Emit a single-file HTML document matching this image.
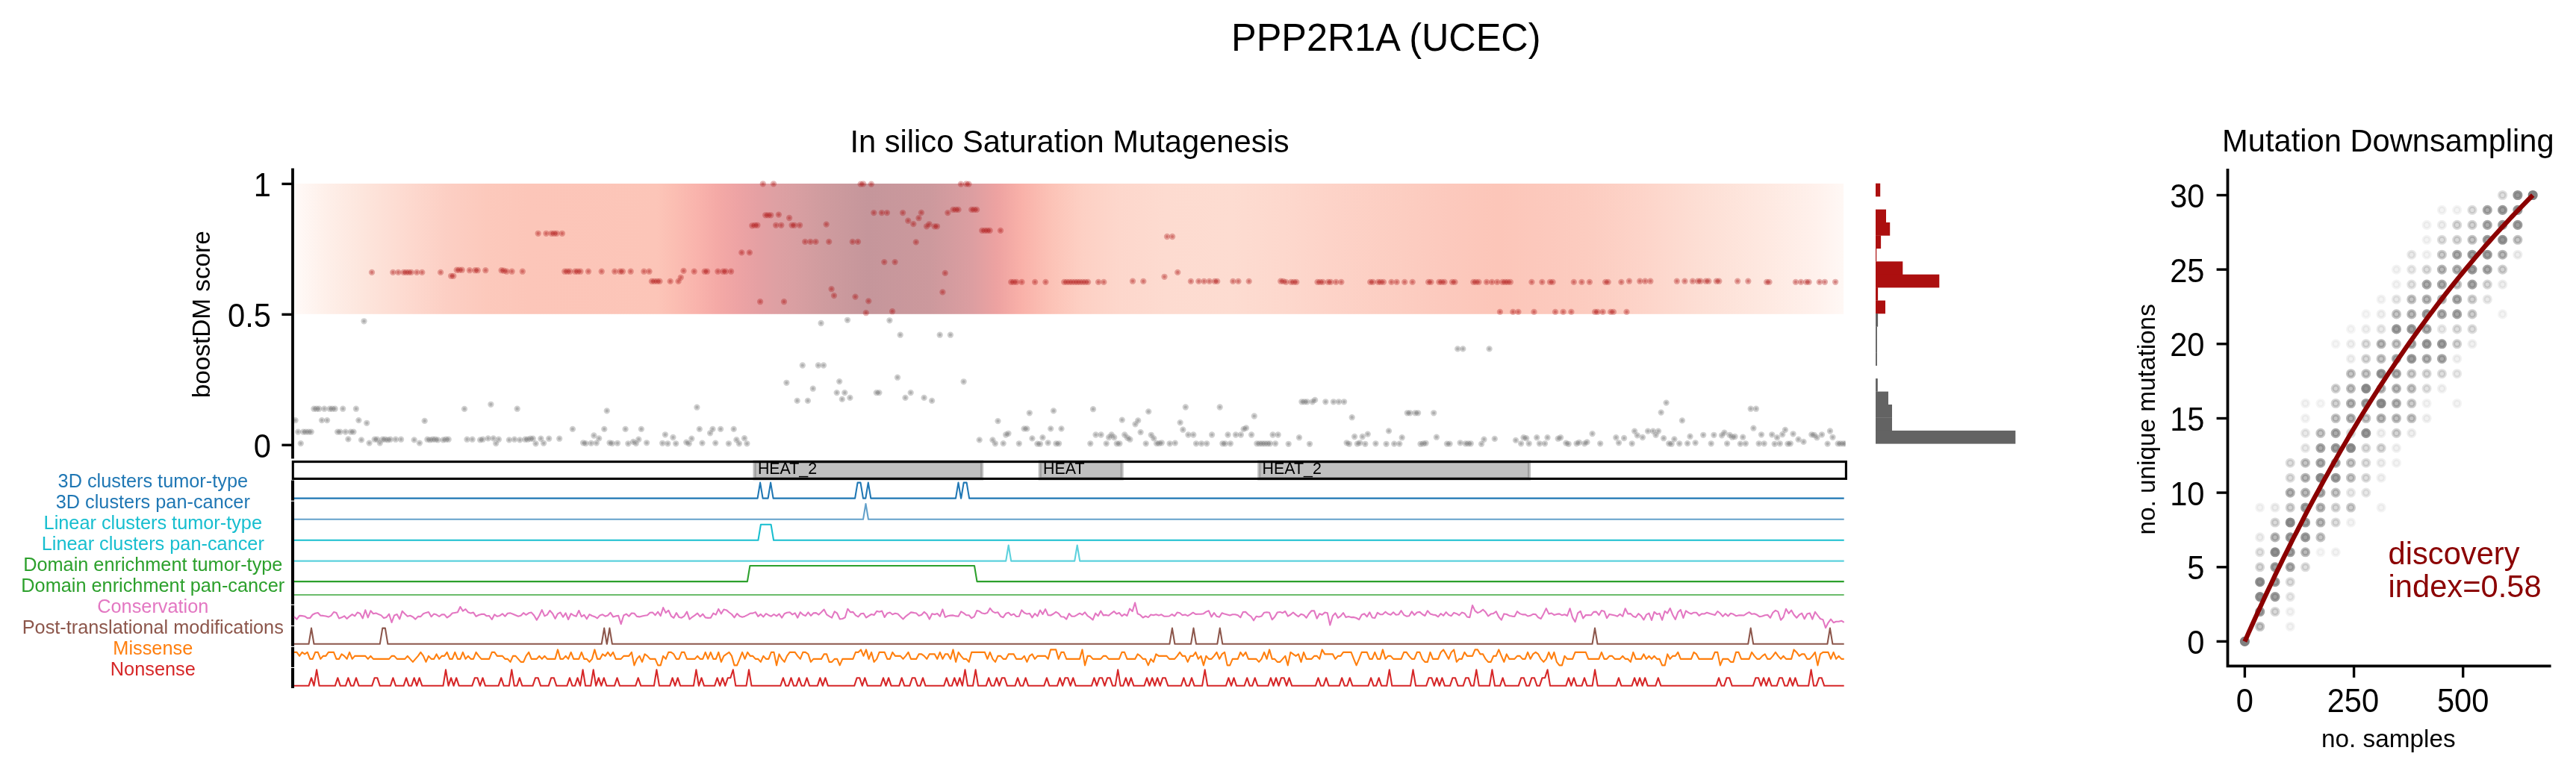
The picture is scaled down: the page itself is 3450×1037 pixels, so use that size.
<!DOCTYPE html>
<html lang="en"><head><meta charset="utf-8"><title>PPP2R1A (UCEC)</title>
<style>html,body{margin:0;padding:0;background:#fff}svg{display:block;will-change:transform}text{font-family:"Liberation Sans", Arial, sans-serif;fill:#000}</style></head><body>
<svg width="3450" height="1037" viewBox="0 0 3450 1037">
<rect width="3450" height="1037" fill="#fff"/>
<g opacity="0.999">
<defs><linearGradient id="band" gradientUnits="userSpaceOnUse" x1="394" y1="0" x2="2469" y2="0">
<stop offset="0.0000" stop-color="#fffaf8"/>
<stop offset="0.0193" stop-color="#fef0ea"/>
<stop offset="0.0458" stop-color="#fde5dc"/>
<stop offset="0.0718" stop-color="#fddad0"/>
<stop offset="0.0978" stop-color="#fccfc4"/>
<stop offset="0.1243" stop-color="#fcc9bc"/>
<stop offset="0.1504" stop-color="#fcc6b9"/>
<stop offset="0.2342" stop-color="#fcc5b8"/>
<stop offset="0.2467" stop-color="#fbbdb2"/>
<stop offset="0.2607" stop-color="#f9b3ac"/>
<stop offset="0.2737" stop-color="#f4a9a6"/>
<stop offset="0.2872" stop-color="#eda3a4"/>
<stop offset="0.2993" stop-color="#e5a0a3"/>
<stop offset="0.3113" stop-color="#dea0a3"/>
<stop offset="0.3234" stop-color="#d99fa2"/>
<stop offset="0.3402" stop-color="#d09c9f"/>
<stop offset="0.3701" stop-color="#c5969b"/>
<stop offset="0.4096" stop-color="#cc999d"/>
<stop offset="0.4376" stop-color="#dc9ea1"/>
<stop offset="0.4535" stop-color="#eda2a1"/>
<stop offset="0.4694" stop-color="#f9b1a9"/>
<stop offset="0.4892" stop-color="#fcc3b7"/>
<stop offset="0.5089" stop-color="#fdd0c4"/>
<stop offset="0.5330" stop-color="#fdd7cc"/>
<stop offset="0.5619" stop-color="#fddbd0"/>
<stop offset="0.6053" stop-color="#fddcd1"/>
<stop offset="0.6390" stop-color="#fdd8cd"/>
<stop offset="0.6680" stop-color="#fdd3c8"/>
<stop offset="0.7161" stop-color="#fccdc1"/>
<stop offset="0.7451" stop-color="#fcc9bd"/>
<stop offset="0.7764" stop-color="#fcc6b9"/>
<stop offset="0.8101" stop-color="#fcc9bd"/>
<stop offset="0.8342" stop-color="#fcccc0"/>
<stop offset="0.8704" stop-color="#fdd4c9"/>
<stop offset="0.9089" stop-color="#fddfd5"/>
<stop offset="0.9475" stop-color="#fee8e0"/>
<stop offset="0.9822" stop-color="#fff1ec"/>
<stop offset="1.0000" stop-color="#fff8f5"/>
</linearGradient>
<clipPath id="axclip"><rect x="392" y="225.4" width="2079.6" height="389.2"/></clipPath>
</defs>
<rect x="394" y="246" width="2075" height="174.8" fill="url(#band)"/>
<g clip-path="url(#axclip)" fill="#636363" stroke="#636363" fill-opacity="0.3" stroke-opacity="0.3" stroke-width="4.17">
<circle cx="395.6" cy="563.1" r="2.08"/>
<circle cx="399.1" cy="578.6" r="2.08"/>
<circle cx="402.8" cy="594.1" r="2.08"/>
<circle cx="406.2" cy="578.6" r="2.08"/>
<circle cx="409.6" cy="578.6" r="2.08"/>
<circle cx="413.3" cy="578.6" r="2.08"/>
<circle cx="416.8" cy="578.6" r="2.08"/>
<circle cx="420.4" cy="547.7" r="2.08"/>
<circle cx="423.9" cy="547.7" r="2.08"/>
<circle cx="427.3" cy="547.7" r="2.08"/>
<circle cx="431" cy="563.1" r="2.08"/>
<circle cx="434.4" cy="547.7" r="2.08"/>
<circle cx="438.1" cy="563.1" r="2.08"/>
<circle cx="441.6" cy="547.7" r="2.08"/>
<circle cx="445" cy="547.7" r="2.08"/>
<circle cx="448.7" cy="547.7" r="2.08"/>
<circle cx="452.1" cy="578.6" r="2.08"/>
<circle cx="455.6" cy="578.6" r="2.08"/>
<circle cx="459.2" cy="547.7" r="2.08"/>
<circle cx="462.7" cy="578.6" r="2.08"/>
<circle cx="466.4" cy="588.4" r="2.08"/>
<circle cx="469.8" cy="578.6" r="2.08"/>
<circle cx="473.5" cy="578.6" r="2.08"/>
<circle cx="476.9" cy="547.7" r="2.08"/>
<circle cx="480.4" cy="563.1" r="2.08"/>
<circle cx="484" cy="589.4" r="2.08"/>
<circle cx="487.5" cy="430.3" r="2.08"/>
<circle cx="491.2" cy="566.8" r="2.08"/>
<circle cx="494.6" cy="593.6" r="2.08"/>
<circle cx="501.7" cy="588.7" r="2.08"/>
<circle cx="505.1" cy="588.7" r="2.08"/>
<circle cx="508.8" cy="593.6" r="2.08"/>
<circle cx="512.3" cy="588.7" r="2.08"/>
<circle cx="515.7" cy="588.7" r="2.08"/>
<circle cx="519.4" cy="589.4" r="2.08"/>
<circle cx="522.8" cy="588.7" r="2.08"/>
<circle cx="529.9" cy="588.7" r="2.08"/>
<circle cx="537.1" cy="588.7" r="2.08"/>
<circle cx="554.7" cy="589.4" r="2.08"/>
<circle cx="561.9" cy="593.6" r="2.08"/>
<circle cx="568.7" cy="563.9" r="2.08"/>
<circle cx="572.4" cy="588.7" r="2.08"/>
<circle cx="575.9" cy="589.4" r="2.08"/>
<circle cx="579.5" cy="588.7" r="2.08"/>
<circle cx="583" cy="588.7" r="2.08"/>
<circle cx="586.4" cy="589.4" r="2.08"/>
<circle cx="593.5" cy="589.4" r="2.08"/>
<circle cx="597.2" cy="588.7" r="2.08"/>
<circle cx="600.7" cy="588.7" r="2.08"/>
<circle cx="622" cy="547.9" r="2.08"/>
<circle cx="625.5" cy="588.7" r="2.08"/>
<circle cx="632.6" cy="588.7" r="2.08"/>
<circle cx="643.1" cy="589.4" r="2.08"/>
<circle cx="646.6" cy="588.7" r="2.08"/>
<circle cx="653.7" cy="587.4" r="2.08"/>
<circle cx="657.4" cy="541.8" r="2.08"/>
<circle cx="660.8" cy="587.4" r="2.08"/>
<circle cx="664.2" cy="594.1" r="2.08"/>
<circle cx="667.9" cy="588.7" r="2.08"/>
<circle cx="681.9" cy="589.4" r="2.08"/>
<circle cx="689" cy="588.7" r="2.08"/>
<circle cx="692.7" cy="547.7" r="2.08"/>
<circle cx="696.2" cy="589.4" r="2.08"/>
<circle cx="703.3" cy="588.7" r="2.08"/>
<circle cx="706.7" cy="588.7" r="2.08"/>
<circle cx="710.4" cy="587.7" r="2.08"/>
<circle cx="713.8" cy="587.7" r="2.08"/>
<circle cx="717.5" cy="594.3" r="2.08"/>
<circle cx="724.4" cy="587.7" r="2.08"/>
<circle cx="728.1" cy="593.8" r="2.08"/>
<circle cx="735.2" cy="587.7" r="2.08"/>
<circle cx="749.2" cy="587.7" r="2.08"/>
<circle cx="766.9" cy="574.9" r="2.08"/>
<circle cx="781.1" cy="593.3" r="2.08"/>
<circle cx="784.5" cy="594.1" r="2.08"/>
<circle cx="791.7" cy="593.8" r="2.08"/>
<circle cx="795.4" cy="583.5" r="2.08"/>
<circle cx="798.8" cy="593.6" r="2.08"/>
<circle cx="802.2" cy="587.4" r="2.08"/>
<circle cx="809.3" cy="574.9" r="2.08"/>
<circle cx="812.8" cy="550.4" r="2.08"/>
<circle cx="816.5" cy="593.3" r="2.08"/>
<circle cx="819.9" cy="594.1" r="2.08"/>
<circle cx="827" cy="593.8" r="2.08"/>
<circle cx="837.6" cy="574.9" r="2.08"/>
<circle cx="841.3" cy="594.3" r="2.08"/>
<circle cx="848.1" cy="591.9" r="2.08"/>
<circle cx="851.8" cy="594.1" r="2.08"/>
<circle cx="855.3" cy="588.7" r="2.08"/>
<circle cx="858.9" cy="574.9" r="2.08"/>
<circle cx="866.1" cy="593.3" r="2.08"/>
<circle cx="887.2" cy="593.8" r="2.08"/>
<circle cx="890.9" cy="582.3" r="2.08"/>
<circle cx="894.3" cy="594.3" r="2.08"/>
<circle cx="901.4" cy="586" r="2.08"/>
<circle cx="905.2" cy="594.3" r="2.08"/>
<circle cx="919.2" cy="592.6" r="2.08"/>
<circle cx="922.8" cy="594.3" r="2.08"/>
<circle cx="926.3" cy="587.7" r="2.08"/>
<circle cx="933.4" cy="545.7" r="2.08"/>
<circle cx="936.8" cy="574.9" r="2.08"/>
<circle cx="940.5" cy="593.6" r="2.08"/>
<circle cx="951.1" cy="580.3" r="2.08"/>
<circle cx="954.5" cy="574.9" r="2.08"/>
<circle cx="958.2" cy="593.6" r="2.08"/>
<circle cx="965.1" cy="574.9" r="2.08"/>
<circle cx="975.9" cy="594.3" r="2.08"/>
<circle cx="982.7" cy="574.9" r="2.08"/>
<circle cx="986.4" cy="589.2" r="2.08"/>
<circle cx="989.9" cy="594.3" r="2.08"/>
<circle cx="997" cy="587.2" r="2.08"/>
<circle cx="1000.4" cy="594.3" r="2.08"/>
<circle cx="1053.4" cy="512.8" r="2.08"/>
<circle cx="1067.7" cy="536.9" r="2.08"/>
<circle cx="1074.8" cy="489.5" r="2.08"/>
<circle cx="1081.9" cy="536.9" r="2.08"/>
<circle cx="1088.8" cy="520.7" r="2.08"/>
<circle cx="1095.9" cy="489.5" r="2.08"/>
<circle cx="1099.6" cy="433" r="2.08"/>
<circle cx="1103" cy="489.5" r="2.08"/>
<circle cx="1120.7" cy="526.1" r="2.08"/>
<circle cx="1124.2" cy="511.1" r="2.08"/>
<circle cx="1127.8" cy="534.9" r="2.08"/>
<circle cx="1131.3" cy="526.1" r="2.08"/>
<circle cx="1135" cy="428.8" r="2.08"/>
<circle cx="1138.4" cy="532.9" r="2.08"/>
<circle cx="1173.8" cy="526.1" r="2.08"/>
<circle cx="1177.4" cy="526.1" r="2.08"/>
<circle cx="1191.4" cy="429.3" r="2.08"/>
<circle cx="1202" cy="505.7" r="2.08"/>
<circle cx="1205.7" cy="448.7" r="2.08"/>
<circle cx="1212.5" cy="532.9" r="2.08"/>
<circle cx="1219.7" cy="526.1" r="2.08"/>
<circle cx="1237.6" cy="532.9" r="2.08"/>
<circle cx="1248.1" cy="536.9" r="2.08"/>
<circle cx="1258.7" cy="448.7" r="2.08"/>
<circle cx="1272.9" cy="448.7" r="2.08"/>
<circle cx="1290.6" cy="511.3" r="2.08"/>
<circle cx="1311.7" cy="589.4" r="2.08"/>
<circle cx="1329.4" cy="589.4" r="2.08"/>
<circle cx="1332.9" cy="594.3" r="2.08"/>
<circle cx="1336.5" cy="564.1" r="2.08"/>
<circle cx="1343.7" cy="594.1" r="2.08"/>
<circle cx="1347.1" cy="582.5" r="2.08"/>
<circle cx="1350.5" cy="580.8" r="2.08"/>
<circle cx="1364.8" cy="594.3" r="2.08"/>
<circle cx="1371.6" cy="574.4" r="2.08"/>
<circle cx="1375.3" cy="574.4" r="2.08"/>
<circle cx="1378.8" cy="553.3" r="2.08"/>
<circle cx="1382.4" cy="587.4" r="2.08"/>
<circle cx="1389.3" cy="594.6" r="2.08"/>
<circle cx="1393" cy="594.8" r="2.08"/>
<circle cx="1396.4" cy="586.2" r="2.08"/>
<circle cx="1403.6" cy="593.3" r="2.08"/>
<circle cx="1407.2" cy="574.4" r="2.08"/>
<circle cx="1411" cy="550.4" r="2.08"/>
<circle cx="1414.4" cy="594.3" r="2.08"/>
<circle cx="1418.1" cy="594.3" r="2.08"/>
<circle cx="1421.5" cy="574.4" r="2.08"/>
<circle cx="1460.3" cy="594.3" r="2.08"/>
<circle cx="1464" cy="548.2" r="2.08"/>
<circle cx="1467.5" cy="582.5" r="2.08"/>
<circle cx="1474.6" cy="582.5" r="2.08"/>
<circle cx="1481.7" cy="594.3" r="2.08"/>
<circle cx="1485.1" cy="586" r="2.08"/>
<circle cx="1488.6" cy="582.5" r="2.08"/>
<circle cx="1492.2" cy="586" r="2.08"/>
<circle cx="1495.7" cy="594.3" r="2.08"/>
<circle cx="1499.4" cy="594.3" r="2.08"/>
<circle cx="1502.8" cy="562.6" r="2.08"/>
<circle cx="1506.2" cy="582.5" r="2.08"/>
<circle cx="1509.9" cy="586.5" r="2.08"/>
<circle cx="1513.4" cy="588.7" r="2.08"/>
<circle cx="1520.5" cy="568.3" r="2.08"/>
<circle cx="1524.2" cy="563.4" r="2.08"/>
<circle cx="1527.6" cy="579.1" r="2.08"/>
<circle cx="1534.7" cy="594.3" r="2.08"/>
<circle cx="1538.2" cy="551.4" r="2.08"/>
<circle cx="1541.8" cy="582.8" r="2.08"/>
<circle cx="1545.3" cy="587.4" r="2.08"/>
<circle cx="1549" cy="594.1" r="2.08"/>
<circle cx="1552.4" cy="594.1" r="2.08"/>
<circle cx="1555.8" cy="593.3" r="2.08"/>
<circle cx="1566.6" cy="594.3" r="2.08"/>
<circle cx="1573.8" cy="593.6" r="2.08"/>
<circle cx="1580.6" cy="566.1" r="2.08"/>
<circle cx="1584.3" cy="575.7" r="2.08"/>
<circle cx="1587.8" cy="545.5" r="2.08"/>
<circle cx="1591.4" cy="582.5" r="2.08"/>
<circle cx="1598.3" cy="582.5" r="2.08"/>
<circle cx="1602" cy="594.3" r="2.08"/>
<circle cx="1609.1" cy="594.3" r="2.08"/>
<circle cx="1616.2" cy="594.3" r="2.08"/>
<circle cx="1623.1" cy="582.5" r="2.08"/>
<circle cx="1633.7" cy="545.5" r="2.08"/>
<circle cx="1637.4" cy="594.3" r="2.08"/>
<circle cx="1640.8" cy="594.3" r="2.08"/>
<circle cx="1644.5" cy="582.5" r="2.08"/>
<circle cx="1647.9" cy="594.3" r="2.08"/>
<circle cx="1655" cy="582.5" r="2.08"/>
<circle cx="1661.9" cy="582.5" r="2.08"/>
<circle cx="1665.6" cy="574.9" r="2.08"/>
<circle cx="1669" cy="573.4" r="2.08"/>
<circle cx="1676.1" cy="582.5" r="2.08"/>
<circle cx="1679.8" cy="557.5" r="2.08"/>
<circle cx="1683.3" cy="594.3" r="2.08"/>
<circle cx="1686.9" cy="594.3" r="2.08"/>
<circle cx="1690.4" cy="594.3" r="2.08"/>
<circle cx="1693.8" cy="594.3" r="2.08"/>
<circle cx="1697.5" cy="594.3" r="2.08"/>
<circle cx="1700.9" cy="594.3" r="2.08"/>
<circle cx="1704.6" cy="582.5" r="2.08"/>
<circle cx="1708.1" cy="594.3" r="2.08"/>
<circle cx="1711.7" cy="582.5" r="2.08"/>
<circle cx="1725.7" cy="594.8" r="2.08"/>
<circle cx="1740" cy="586.2" r="2.08"/>
<circle cx="1743.4" cy="538.3" r="2.08"/>
<circle cx="1746.9" cy="538.3" r="2.08"/>
<circle cx="1750.5" cy="538.3" r="2.08"/>
<circle cx="1754" cy="594.8" r="2.08"/>
<circle cx="1757.7" cy="538.3" r="2.08"/>
<circle cx="1761.1" cy="535.9" r="2.08"/>
<circle cx="1775.3" cy="538.3" r="2.08"/>
<circle cx="1785.9" cy="538.3" r="2.08"/>
<circle cx="1793" cy="538.3" r="2.08"/>
<circle cx="1800.1" cy="538.3" r="2.08"/>
<circle cx="1803.6" cy="593.3" r="2.08"/>
<circle cx="1807" cy="594.8" r="2.08"/>
<circle cx="1810.7" cy="559.2" r="2.08"/>
<circle cx="1814.1" cy="585" r="2.08"/>
<circle cx="1817.8" cy="594.6" r="2.08"/>
<circle cx="1821.2" cy="593.3" r="2.08"/>
<circle cx="1824.7" cy="585" r="2.08"/>
<circle cx="1828.4" cy="594.8" r="2.08"/>
<circle cx="1831.8" cy="581.6" r="2.08"/>
<circle cx="1842.4" cy="594.3" r="2.08"/>
<circle cx="1856.6" cy="594.8" r="2.08"/>
<circle cx="1860" cy="577.4" r="2.08"/>
<circle cx="1867.2" cy="594.6" r="2.08"/>
<circle cx="1874.3" cy="594.6" r="2.08"/>
<circle cx="1877.7" cy="586.2" r="2.08"/>
<circle cx="1884.8" cy="553.3" r="2.08"/>
<circle cx="1888.3" cy="553.3" r="2.08"/>
<circle cx="1895.4" cy="553.3" r="2.08"/>
<circle cx="1899.1" cy="553.3" r="2.08"/>
<circle cx="1902.5" cy="594.8" r="2.08"/>
<circle cx="1906.2" cy="594.3" r="2.08"/>
<circle cx="1909.6" cy="593.8" r="2.08"/>
<circle cx="1920.2" cy="553.3" r="2.08"/>
<circle cx="1923.9" cy="585.7" r="2.08"/>
<circle cx="1937.9" cy="594.6" r="2.08"/>
<circle cx="1941.6" cy="594.6" r="2.08"/>
<circle cx="1952.2" cy="467.4" r="2.08"/>
<circle cx="1955.6" cy="593.3" r="2.08"/>
<circle cx="1959.3" cy="467.4" r="2.08"/>
<circle cx="1962.7" cy="594.3" r="2.08"/>
<circle cx="1966.4" cy="594.3" r="2.08"/>
<circle cx="1969.8" cy="594.3" r="2.08"/>
<circle cx="1984.1" cy="594.8" r="2.08"/>
<circle cx="1987.5" cy="588.7" r="2.08"/>
<circle cx="1994.6" cy="467.4" r="2.08"/>
<circle cx="2001.8" cy="587.9" r="2.08"/>
<circle cx="2030" cy="589.9" r="2.08"/>
<circle cx="2037.1" cy="594.3" r="2.08"/>
<circle cx="2040.5" cy="586.2" r="2.08"/>
<circle cx="2044.2" cy="587.2" r="2.08"/>
<circle cx="2047.7" cy="594.3" r="2.08"/>
<circle cx="2058.2" cy="586.2" r="2.08"/>
<circle cx="2061.9" cy="594.3" r="2.08"/>
<circle cx="2069" cy="594.3" r="2.08"/>
<circle cx="2072.5" cy="586.2" r="2.08"/>
<circle cx="2086.7" cy="587.7" r="2.08"/>
<circle cx="2090.1" cy="586.2" r="2.08"/>
<circle cx="2097.3" cy="593.6" r="2.08"/>
<circle cx="2100.7" cy="594.8" r="2.08"/>
<circle cx="2111.5" cy="594.3" r="2.08"/>
<circle cx="2114.9" cy="592.8" r="2.08"/>
<circle cx="2122.1" cy="594.3" r="2.08"/>
<circle cx="2125.5" cy="592.4" r="2.08"/>
<circle cx="2132.6" cy="581.1" r="2.08"/>
<circle cx="2143.2" cy="594.3" r="2.08"/>
<circle cx="2164.3" cy="586.2" r="2.08"/>
<circle cx="2168" cy="593.3" r="2.08"/>
<circle cx="2175.1" cy="587" r="2.08"/>
<circle cx="2185.7" cy="594.3" r="2.08"/>
<circle cx="2189.1" cy="577.6" r="2.08"/>
<circle cx="2192.8" cy="583.3" r="2.08"/>
<circle cx="2199.9" cy="586" r="2.08"/>
<circle cx="2207" cy="577.6" r="2.08"/>
<circle cx="2213.9" cy="577.6" r="2.08"/>
<circle cx="2217.6" cy="582.8" r="2.08"/>
<circle cx="2221" cy="577.6" r="2.08"/>
<circle cx="2224.7" cy="552.6" r="2.08"/>
<circle cx="2228.1" cy="587.2" r="2.08"/>
<circle cx="2231.6" cy="539.6" r="2.08"/>
<circle cx="2235.2" cy="594.3" r="2.08"/>
<circle cx="2238.7" cy="594.8" r="2.08"/>
<circle cx="2242.4" cy="588.4" r="2.08"/>
<circle cx="2249.2" cy="594.3" r="2.08"/>
<circle cx="2252.9" cy="563.4" r="2.08"/>
<circle cx="2260" cy="594.1" r="2.08"/>
<circle cx="2263.5" cy="584.7" r="2.08"/>
<circle cx="2270.6" cy="593.3" r="2.08"/>
<circle cx="2281.2" cy="582.8" r="2.08"/>
<circle cx="2291.7" cy="594.3" r="2.08"/>
<circle cx="2295.4" cy="582.8" r="2.08"/>
<circle cx="2306" cy="583.3" r="2.08"/>
<circle cx="2309.4" cy="579.6" r="2.08"/>
<circle cx="2313.1" cy="594.3" r="2.08"/>
<circle cx="2316.5" cy="582.8" r="2.08"/>
<circle cx="2320" cy="585.7" r="2.08"/>
<circle cx="2323.6" cy="585" r="2.08"/>
<circle cx="2330.8" cy="594.6" r="2.08"/>
<circle cx="2334.2" cy="585.7" r="2.08"/>
<circle cx="2337.9" cy="594.3" r="2.08"/>
<circle cx="2344.7" cy="547.7" r="2.08"/>
<circle cx="2348.4" cy="573.7" r="2.08"/>
<circle cx="2351.9" cy="547.7" r="2.08"/>
<circle cx="2355.6" cy="594.3" r="2.08"/>
<circle cx="2359" cy="582.3" r="2.08"/>
<circle cx="2362.7" cy="594.3" r="2.08"/>
<circle cx="2373.2" cy="582.3" r="2.08"/>
<circle cx="2376.7" cy="594.8" r="2.08"/>
<circle cx="2380.1" cy="586.2" r="2.08"/>
<circle cx="2383.8" cy="594.3" r="2.08"/>
<circle cx="2387.2" cy="582" r="2.08"/>
<circle cx="2390.9" cy="575.9" r="2.08"/>
<circle cx="2394.3" cy="594.6" r="2.08"/>
<circle cx="2397.8" cy="594.3" r="2.08"/>
<circle cx="2401.5" cy="581.3" r="2.08"/>
<circle cx="2408.6" cy="588.7" r="2.08"/>
<circle cx="2415.5" cy="591.9" r="2.08"/>
<circle cx="2426.3" cy="582.3" r="2.08"/>
<circle cx="2429.7" cy="582.8" r="2.08"/>
<circle cx="2433.4" cy="586.2" r="2.08"/>
<circle cx="2440" cy="582.3" r="2.08"/>
<circle cx="2447.6" cy="594.6" r="2.08"/>
<circle cx="2451" cy="577.5" r="2.08"/>
<circle cx="2454.5" cy="585.8" r="2.08"/>
<circle cx="2461.6" cy="594.4" r="2.08"/>
<circle cx="2465" cy="594.4" r="2.08"/>
<circle cx="2468.7" cy="594.4" r="2.08"/>
<circle cx="2472.1" cy="594.4" r="2.08"/>
</g>
<g clip-path="url(#axclip)" fill="#ac0f0f" stroke="#ac0f0f" fill-opacity="0.3" stroke-opacity="0.3" stroke-width="4.17">
<circle cx="498" cy="364.9" r="2.08"/>
<circle cx="526.3" cy="364.9" r="2.08"/>
<circle cx="533.4" cy="364.9" r="2.08"/>
<circle cx="540.5" cy="364.9" r="2.08"/>
<circle cx="543.9" cy="364.9" r="2.08"/>
<circle cx="547.4" cy="364.9" r="2.08"/>
<circle cx="550.8" cy="364.9" r="2.08"/>
<circle cx="558.2" cy="364.9" r="2.08"/>
<circle cx="565.3" cy="364.9" r="2.08"/>
<circle cx="590.1" cy="364.9" r="2.08"/>
<circle cx="604.1" cy="369.8" r="2.08"/>
<circle cx="607.3" cy="369.8" r="2.08"/>
<circle cx="611.7" cy="361.7" r="2.08"/>
<circle cx="615.1" cy="361.7" r="2.08"/>
<circle cx="618.8" cy="361.7" r="2.08"/>
<circle cx="628.9" cy="362.2" r="2.08"/>
<circle cx="636.3" cy="362.2" r="2.08"/>
<circle cx="639.7" cy="362.2" r="2.08"/>
<circle cx="650.3" cy="362.2" r="2.08"/>
<circle cx="671.6" cy="362.2" r="2.08"/>
<circle cx="674.8" cy="362.7" r="2.08"/>
<circle cx="678.5" cy="363.7" r="2.08"/>
<circle cx="685.6" cy="363.7" r="2.08"/>
<circle cx="699.8" cy="363.7" r="2.08"/>
<circle cx="720.7" cy="312.8" r="2.08"/>
<circle cx="731.5" cy="312.8" r="2.08"/>
<circle cx="738.6" cy="312.8" r="2.08"/>
<circle cx="742.1" cy="312.8" r="2.08"/>
<circle cx="745.5" cy="312.8" r="2.08"/>
<circle cx="752.9" cy="312.8" r="2.08"/>
<circle cx="756.3" cy="363.7" r="2.08"/>
<circle cx="759.8" cy="363.7" r="2.08"/>
<circle cx="763.2" cy="363.7" r="2.08"/>
<circle cx="770.3" cy="363.7" r="2.08"/>
<circle cx="773.7" cy="363.7" r="2.08"/>
<circle cx="777.4" cy="363.7" r="2.08"/>
<circle cx="788" cy="363.7" r="2.08"/>
<circle cx="805.7" cy="363.7" r="2.08"/>
<circle cx="823.3" cy="363.7" r="2.08"/>
<circle cx="830.5" cy="363.7" r="2.08"/>
<circle cx="833.9" cy="363.7" r="2.08"/>
<circle cx="844.7" cy="363.7" r="2.08"/>
<circle cx="862.4" cy="363.7" r="2.08"/>
<circle cx="869.5" cy="363.7" r="2.08"/>
<circle cx="872.9" cy="376.9" r="2.08"/>
<circle cx="876.4" cy="376.9" r="2.08"/>
<circle cx="880.1" cy="376.9" r="2.08"/>
<circle cx="883.5" cy="376.9" r="2.08"/>
<circle cx="897.7" cy="376.9" r="2.08"/>
<circle cx="908.6" cy="376.9" r="2.08"/>
<circle cx="911.8" cy="371.8" r="2.08"/>
<circle cx="915.5" cy="362.9" r="2.08"/>
<circle cx="929.7" cy="363.7" r="2.08"/>
<circle cx="943.7" cy="363.7" r="2.08"/>
<circle cx="947.1" cy="363.7" r="2.08"/>
<circle cx="961.4" cy="363.7" r="2.08"/>
<circle cx="968.5" cy="363.7" r="2.08"/>
<circle cx="971.9" cy="363.7" r="2.08"/>
<circle cx="979.1" cy="363.7" r="2.08"/>
<circle cx="993.3" cy="338.4" r="2.08"/>
<circle cx="1003.9" cy="338.4" r="2.08"/>
<circle cx="1007.3" cy="302.3" r="2.08"/>
<circle cx="1011" cy="301.8" r="2.08"/>
<circle cx="1014.4" cy="301.8" r="2.08"/>
<circle cx="1018.1" cy="404.2" r="2.08"/>
<circle cx="1021.8" cy="246.3" r="2.08"/>
<circle cx="1025.2" cy="288.3" r="2.08"/>
<circle cx="1028.7" cy="288.3" r="2.08"/>
<circle cx="1032.3" cy="288.3" r="2.08"/>
<circle cx="1036" cy="246.3" r="2.08"/>
<circle cx="1039.2" cy="301.8" r="2.08"/>
<circle cx="1042.9" cy="287.6" r="2.08"/>
<circle cx="1046.3" cy="301.8" r="2.08"/>
<circle cx="1050" cy="404.2" r="2.08"/>
<circle cx="1057.1" cy="292" r="2.08"/>
<circle cx="1060.6" cy="301.8" r="2.08"/>
<circle cx="1064" cy="301.8" r="2.08"/>
<circle cx="1071.1" cy="301.8" r="2.08"/>
<circle cx="1078.2" cy="323.9" r="2.08"/>
<circle cx="1085.4" cy="323.9" r="2.08"/>
<circle cx="1092.5" cy="323.9" r="2.08"/>
<circle cx="1106.7" cy="300.6" r="2.08"/>
<circle cx="1110.2" cy="323.9" r="2.08"/>
<circle cx="1113.6" cy="387.2" r="2.08"/>
<circle cx="1117" cy="396.1" r="2.08"/>
<circle cx="1141.8" cy="323.9" r="2.08"/>
<circle cx="1145.5" cy="397.6" r="2.08"/>
<circle cx="1149" cy="323.9" r="2.08"/>
<circle cx="1152.6" cy="246.6" r="2.08"/>
<circle cx="1156.1" cy="246.3" r="2.08"/>
<circle cx="1159.8" cy="419.2" r="2.08"/>
<circle cx="1163.2" cy="403.4" r="2.08"/>
<circle cx="1166.9" cy="246.6" r="2.08"/>
<circle cx="1170.3" cy="285.1" r="2.08"/>
<circle cx="1180.9" cy="285.1" r="2.08"/>
<circle cx="1184.3" cy="351.1" r="2.08"/>
<circle cx="1188" cy="285.1" r="2.08"/>
<circle cx="1195.1" cy="417.2" r="2.08"/>
<circle cx="1198.6" cy="351.1" r="2.08"/>
<circle cx="1209.1" cy="285.1" r="2.08"/>
<circle cx="1216.2" cy="295.7" r="2.08"/>
<circle cx="1223.3" cy="300.1" r="2.08"/>
<circle cx="1226.8" cy="324.4" r="2.08"/>
<circle cx="1230.5" cy="292.2" r="2.08"/>
<circle cx="1233.9" cy="284.9" r="2.08"/>
<circle cx="1241" cy="303.3" r="2.08"/>
<circle cx="1244.5" cy="300.3" r="2.08"/>
<circle cx="1251.6" cy="303.3" r="2.08"/>
<circle cx="1255" cy="303.3" r="2.08"/>
<circle cx="1262.4" cy="391.4" r="2.08"/>
<circle cx="1265.8" cy="365.9" r="2.08"/>
<circle cx="1269.3" cy="285.1" r="2.08"/>
<circle cx="1276.4" cy="280.9" r="2.08"/>
<circle cx="1280.1" cy="280.9" r="2.08"/>
<circle cx="1283.5" cy="280.9" r="2.08"/>
<circle cx="1286.9" cy="246.6" r="2.08"/>
<circle cx="1294.1" cy="246.3" r="2.08"/>
<circle cx="1297.5" cy="246.6" r="2.08"/>
<circle cx="1301.2" cy="280.9" r="2.08"/>
<circle cx="1304.6" cy="280.9" r="2.08"/>
<circle cx="1308.1" cy="280.9" r="2.08"/>
<circle cx="1315.2" cy="308.9" r="2.08"/>
<circle cx="1318.9" cy="308.9" r="2.08"/>
<circle cx="1322.3" cy="308.9" r="2.08"/>
<circle cx="1325.7" cy="308.9" r="2.08"/>
<circle cx="1340" cy="308.9" r="2.08"/>
<circle cx="1354.2" cy="377.9" r="2.08"/>
<circle cx="1357.6" cy="377.9" r="2.08"/>
<circle cx="1361.3" cy="377.9" r="2.08"/>
<circle cx="1368.5" cy="377.9" r="2.08"/>
<circle cx="1386.1" cy="377.9" r="2.08"/>
<circle cx="1400.4" cy="377.9" r="2.08"/>
<circle cx="1425.2" cy="377.9" r="2.08"/>
<circle cx="1428.7" cy="377.9" r="2.08"/>
<circle cx="1432.3" cy="377.9" r="2.08"/>
<circle cx="1435.8" cy="377.9" r="2.08"/>
<circle cx="1439.5" cy="377.9" r="2.08"/>
<circle cx="1442.9" cy="377.9" r="2.08"/>
<circle cx="1446.3" cy="377.9" r="2.08"/>
<circle cx="1450" cy="377.9" r="2.08"/>
<circle cx="1453.5" cy="377.9" r="2.08"/>
<circle cx="1457.1" cy="377.9" r="2.08"/>
<circle cx="1471.1" cy="377.9" r="2.08"/>
<circle cx="1478.3" cy="377.9" r="2.08"/>
<circle cx="1517" cy="376.7" r="2.08"/>
<circle cx="1531.3" cy="376.9" r="2.08"/>
<circle cx="1559.5" cy="370.8" r="2.08"/>
<circle cx="1563" cy="317" r="2.08"/>
<circle cx="1570.1" cy="317" r="2.08"/>
<circle cx="1577.2" cy="364.9" r="2.08"/>
<circle cx="1594.9" cy="376.9" r="2.08"/>
<circle cx="1605.4" cy="376.9" r="2.08"/>
<circle cx="1612.6" cy="376.9" r="2.08"/>
<circle cx="1619.7" cy="376.9" r="2.08"/>
<circle cx="1626.8" cy="376.9" r="2.08"/>
<circle cx="1630.2" cy="376.9" r="2.08"/>
<circle cx="1651.3" cy="376.9" r="2.08"/>
<circle cx="1658.5" cy="376.9" r="2.08"/>
<circle cx="1672.7" cy="376.9" r="2.08"/>
<circle cx="1715.2" cy="376.7" r="2.08"/>
<circle cx="1718.6" cy="376.9" r="2.08"/>
<circle cx="1722.3" cy="377.9" r="2.08"/>
<circle cx="1729.2" cy="377.9" r="2.08"/>
<circle cx="1732.9" cy="377.9" r="2.08"/>
<circle cx="1736.3" cy="377.9" r="2.08"/>
<circle cx="1764.5" cy="377.9" r="2.08"/>
<circle cx="1768" cy="377.9" r="2.08"/>
<circle cx="1771.6" cy="377.9" r="2.08"/>
<circle cx="1778.8" cy="377.9" r="2.08"/>
<circle cx="1782.2" cy="377.9" r="2.08"/>
<circle cx="1789.3" cy="377.9" r="2.08"/>
<circle cx="1796.4" cy="377.9" r="2.08"/>
<circle cx="1835.2" cy="377.9" r="2.08"/>
<circle cx="1838.7" cy="377.9" r="2.08"/>
<circle cx="1845.8" cy="377.9" r="2.08"/>
<circle cx="1849.2" cy="377.9" r="2.08"/>
<circle cx="1852.9" cy="377.9" r="2.08"/>
<circle cx="1863.5" cy="377.9" r="2.08"/>
<circle cx="1870.6" cy="377.9" r="2.08"/>
<circle cx="1881.2" cy="377.9" r="2.08"/>
<circle cx="1891.7" cy="377.9" r="2.08"/>
<circle cx="1913.1" cy="377.9" r="2.08"/>
<circle cx="1916.5" cy="377.9" r="2.08"/>
<circle cx="1927.4" cy="377.9" r="2.08"/>
<circle cx="1930.8" cy="377.9" r="2.08"/>
<circle cx="1934.5" cy="377.9" r="2.08"/>
<circle cx="1945" cy="377.9" r="2.08"/>
<circle cx="1948.5" cy="377.9" r="2.08"/>
<circle cx="1973.3" cy="377.9" r="2.08"/>
<circle cx="1976.7" cy="377.9" r="2.08"/>
<circle cx="1980.4" cy="377.9" r="2.08"/>
<circle cx="1991" cy="377.9" r="2.08"/>
<circle cx="1998.1" cy="377.9" r="2.08"/>
<circle cx="2005.2" cy="377.9" r="2.08"/>
<circle cx="2008.9" cy="417.9" r="2.08"/>
<circle cx="2012.3" cy="377.9" r="2.08"/>
<circle cx="2015.8" cy="377.9" r="2.08"/>
<circle cx="2019.2" cy="377.9" r="2.08"/>
<circle cx="2022.9" cy="377.9" r="2.08"/>
<circle cx="2026.3" cy="417.9" r="2.08"/>
<circle cx="2033.4" cy="417.9" r="2.08"/>
<circle cx="2051.4" cy="377.9" r="2.08"/>
<circle cx="2054.5" cy="417.9" r="2.08"/>
<circle cx="2065.3" cy="377.9" r="2.08"/>
<circle cx="2075.9" cy="377.9" r="2.08"/>
<circle cx="2079.6" cy="377.9" r="2.08"/>
<circle cx="2083" cy="417.9" r="2.08"/>
<circle cx="2093.6" cy="417.9" r="2.08"/>
<circle cx="2104.4" cy="417.9" r="2.08"/>
<circle cx="2107.8" cy="377.9" r="2.08"/>
<circle cx="2118.4" cy="377.9" r="2.08"/>
<circle cx="2128.9" cy="377.9" r="2.08"/>
<circle cx="2136.1" cy="417.9" r="2.08"/>
<circle cx="2139.5" cy="417.9" r="2.08"/>
<circle cx="2146.6" cy="417.9" r="2.08"/>
<circle cx="2150.1" cy="377.9" r="2.08"/>
<circle cx="2153.7" cy="377.9" r="2.08"/>
<circle cx="2157.2" cy="417.9" r="2.08"/>
<circle cx="2160.9" cy="417.9" r="2.08"/>
<circle cx="2171.4" cy="377.9" r="2.08"/>
<circle cx="2178.5" cy="417.9" r="2.08"/>
<circle cx="2182" cy="376.7" r="2.08"/>
<circle cx="2196.2" cy="376.7" r="2.08"/>
<circle cx="2203.3" cy="376.7" r="2.08"/>
<circle cx="2210.4" cy="376.7" r="2.08"/>
<circle cx="2245.8" cy="376.7" r="2.08"/>
<circle cx="2256.4" cy="376.7" r="2.08"/>
<circle cx="2266.9" cy="376.7" r="2.08"/>
<circle cx="2274" cy="376.7" r="2.08"/>
<circle cx="2277.5" cy="376.7" r="2.08"/>
<circle cx="2284.6" cy="376.7" r="2.08"/>
<circle cx="2288.3" cy="376.7" r="2.08"/>
<circle cx="2298.8" cy="376.7" r="2.08"/>
<circle cx="2302.3" cy="376.7" r="2.08"/>
<circle cx="2327.1" cy="376.7" r="2.08"/>
<circle cx="2341.3" cy="376.7" r="2.08"/>
<circle cx="2366.1" cy="377.9" r="2.08"/>
<circle cx="2369.5" cy="377.9" r="2.08"/>
<circle cx="2404.9" cy="377.9" r="2.08"/>
<circle cx="2412" cy="377.9" r="2.08"/>
<circle cx="2419.1" cy="377.9" r="2.08"/>
<circle cx="2422.6" cy="377.9" r="2.08"/>
<circle cx="2436.8" cy="377.9" r="2.08"/>
<circle cx="2443.9" cy="377.8" r="2.08"/>
<circle cx="2458.1" cy="377.8" r="2.08"/>
</g>
<g stroke="#000" stroke-width="3.8" fill="none">
<line x1="392" y1="225.4" x2="392" y2="614.6"/>
<line x1="377.4" y1="246.4" x2="392" y2="246.4" stroke-width="3.4"/>
<line x1="377.4" y1="421.3" x2="392" y2="421.3" stroke-width="3.4"/>
<line x1="377.4" y1="596.3" x2="392" y2="596.3" stroke-width="3.4"/>
</g>
<text transform="translate(363,262.8) scale(1,1.044)" font-size="41.67" text-anchor="end">1</text>
<text transform="translate(363,437.7) scale(1,1.044)" font-size="41.67" text-anchor="end">0.5</text>
<text transform="translate(363,612.7) scale(1,1.044)" font-size="41.67" text-anchor="end">0</text>
<text transform="translate(281,421.3) rotate(-90)" font-size="33.33" text-anchor="middle">boostDM score</text>
<text transform="translate(1856.3,67.8) scale(1,1.04)" font-size="50.4" text-anchor="middle">PPP2R1A (UCEC)</text>
<text x="1432.5" y="203.5" font-size="41.67" text-anchor="middle">In silico Saturation Mutagenesis</text>
<text x="3198.4" y="203.2" font-size="41.67" text-anchor="middle">Mutation Downsampling</text>
<rect x="2512" y="245.7" width="6.2" height="17.7" fill="#ac0f0f"/>
<rect x="2512" y="280.6" width="14" height="17.7" fill="#ac0f0f"/>
<rect x="2512" y="298" width="19.2" height="17.7" fill="#ac0f0f"/>
<rect x="2512" y="315.4" width="7.1" height="17.7" fill="#ac0f0f"/>
<rect x="2512" y="332.8" width="1.2" height="17.7" fill="#ac0f0f"/>
<rect x="2512" y="350.3" width="36.3" height="17.7" fill="#ac0f0f"/>
<rect x="2512" y="367.7" width="85.3" height="17.7" fill="#ac0f0f"/>
<rect x="2512" y="385.1" width="3.1" height="17.7" fill="#ac0f0f"/>
<rect x="2512" y="402.6" width="13" height="17.7" fill="#ac0f0f"/>
<rect x="2512" y="420" width="3.1" height="17.7" fill="#636363"/>
<rect x="2512" y="437.4" width="1.9" height="17.7" fill="#636363"/>
<rect x="2512" y="454.9" width="1.9" height="17.7" fill="#636363"/>
<rect x="2512" y="472.3" width="1.9" height="17.7" fill="#636363"/>
<rect x="2512" y="507.1" width="2.8" height="17.7" fill="#636363"/>
<rect x="2512" y="524.6" width="17" height="17.7" fill="#636363"/>
<rect x="2512" y="542" width="22" height="17.7" fill="#636363"/>
<rect x="2512" y="559.4" width="22" height="17.7" fill="#636363"/>
<rect x="2512" y="576.9" width="187.3" height="17.7" fill="#636363"/>
<g>
<rect x="1010.6" y="618.6" width="304.4" height="22.8" fill="#808080" fill-opacity="0.5" stroke="#808080" stroke-opacity="0.5" stroke-width="4.17"/>
<text transform="translate(1014.9,635.2) scale(1,1.02)" font-size="21.4" text-anchor="start">HEAT_2</text>
<rect x="1392.8" y="618.6" width="109.8" height="22.8" fill="#808080" fill-opacity="0.5" stroke="#808080" stroke-opacity="0.5" stroke-width="4.17"/>
<text transform="translate(1397.1,635.2) scale(1,1.02)" font-size="21.4" text-anchor="start">HEAT</text>
<rect x="1686.3" y="618.6" width="361.7" height="22.8" fill="#808080" fill-opacity="0.5" stroke="#808080" stroke-opacity="0.5" stroke-width="4.17"/>
<text transform="translate(1690.6,635.2) scale(1,1.02)" font-size="21.4" text-anchor="start">HEAT_2</text>
<rect x="392.3" y="618.6" width="2080.1" height="22.8" fill="none" stroke="#000" stroke-width="3.1"/>
</g>
<line x1="392" y1="643.6" x2="392" y2="921.9" stroke="#000" stroke-width="4.1"/>
<rect x="389" y="670.7" width="7" height="1.1" fill="#fff"/>
<rect x="389" y="809.7" width="7" height="1.1" fill="#fff"/>
<rect x="389" y="838" width="7" height="1.1" fill="#fff"/>
<rect x="389" y="865.8" width="7" height="1.1" fill="#fff"/>
<rect x="389" y="893.9" width="7" height="1.1" fill="#fff"/>
<path d="M394 667.6 L1014.6 667.6 L1018.1 646.6 L1021.6 667.6 L1028.6 667.6 L1032.1 646.6 L1035.6 667.6 L1145.1 667.6 L1148.6 646.6 L1152.5 646.6 L1156 667.6 L1159.3 667.6 L1162.8 646.6 L1166.3 667.6 L1280 667.6 L1283.5 646.6 L1287 667.6 L1287.2 667.6 L1290.7 646.6 L1294.6 646.6 L1298.1 667.6 L2469.7 667.6" fill="none" stroke="#1f77b4" stroke-width="2.08" stroke-linejoin="round"/>
<path d="M394 695.8 L1156 695.8 L1159.5 675 L1163 695.8 L2469.7 695.8" fill="none" stroke="#1f77b4" stroke-width="2.08" stroke-linejoin="round" stroke-opacity="0.7"/>
<path d="M394 723.8 L1015.4 723.8 L1018.9 702.8 L1032.6 702.8 L1036.1 723.8 L2469.7 723.8" fill="none" stroke="#17becf" stroke-width="2.08" stroke-linejoin="round"/>
<path d="M394 751.6 L1347.2 751.6 L1350.7 730.5 L1354.2 751.6 L1439.2 751.6 L1442.7 730.5 L1446.2 751.6 L2469.7 751.6" fill="none" stroke="#17becf" stroke-width="2.08" stroke-linejoin="round" stroke-opacity="0.7"/>
<path d="M394 779.1 L1000.9 779.1 L1004.4 758 L1305 758 L1308.5 779.1 L2469.7 779.1" fill="none" stroke="#2ca02c" stroke-width="2.08" stroke-linejoin="round"/>
<path d="M394 797 L2469.7 797" fill="none" stroke="#2ca02c" stroke-width="2.08" stroke-linejoin="round" stroke-opacity="0.7"/>
<path d="M394 826.3 L397.5 829.7 L401.1 824.9 L404.6 825.1 L408.1 825.7 L411.7 828.1 L415.2 828 L418.7 823.5 L422.2 821.8 L425.8 821 L429.3 824.7 L432.8 824.9 L436.4 825.6 L439.9 826.6 L443.4 824.9 L447 820 L450.5 821 L454 828.4 L457.5 827.3 L461.1 825.3 L464.6 828.9 L468.1 825.8 L471.7 823.1 L475.2 825.4 L478.7 820.5 L482.3 822 L485.8 828.4 L489.3 817.3 L492.8 827.4 L496.4 818.3 L499.9 822.3 L503.4 821.4 L507 823 L510.5 824.4 L514 828.1 L517.6 826.9 L521.1 822.7 L524.6 833.9 L528.1 824.4 L531.7 823.1 L535.2 829.4 L538.7 818.8 L542.3 822.4 L545.8 825.7 L549.3 824.8 L552.9 826.5 L556.4 829.6 L559.9 825.9 L563.4 826.1 L567 822.2 L570.5 820.9 L574 820 L577.6 826.2 L581.1 822.6 L584.6 823.6 L588.2 826 L591.7 823.4 L595.2 823.4 L598.7 827.5 L602.3 825.2 L605.8 821.5 L609.3 820.9 L612.9 820.3 L616.4 813 L619.9 818.6 L623.5 816.1 L627 820.3 L630.5 821.6 L634 820.6 L637.6 825.9 L641.1 824 L644.6 822.9 L648.2 822.7 L651.7 825.3 L655.2 825 L658.8 830 L662.3 823.3 L665.8 825.8 L669.3 824.9 L672.9 822.3 L676.4 825.7 L679.9 821.7 L683.5 821.4 L687 822.8 L690.5 824.3 L694.1 825.8 L697.6 824.8 L701.1 821.2 L704.6 823.8 L708.2 821.3 L711.7 820.6 L715.2 824.5 L718.8 830.6 L722.3 824.8 L725.8 817.2 L729.4 825.4 L732.9 823.6 L736.4 818 L740 822 L743.5 828.9 L747 822.3 L750.5 820.5 L754.1 826.7 L757.6 821.4 L761.1 830 L764.7 822.2 L768.2 824.5 L771.7 825.8 L775.3 818 L778.8 826.2 L782.3 823.8 L785.8 829.3 L789.4 823.2 L792.9 825 L796.4 826.2 L800 828.4 L803.5 824.4 L807 823.3 L810.6 825.7 L814.1 824.5 L817.6 820.8 L821.1 826.4 L824.7 825.4 L828.2 824.9 L831.7 836.1 L835.3 824.5 L838.8 822.6 L842.3 825.7 L845.9 821.5 L849.4 821.8 L852.9 825.9 L856.4 826.4 L860 825.5 L863.5 824.7 L867 824.3 L870.6 820.8 L874.1 820.6 L877.6 824.2 L881.2 819.7 L884.7 825.1 L888.2 814.1 L891.7 821.1 L895.3 817.8 L898.8 825.3 L902.3 827.9 L905.9 821.1 L909.4 826.9 L912.9 827.7 L916.5 825.3 L920 819.6 L923.5 829.7 L927 826.8 L930.6 824.3 L934.1 821.7 L937.6 826.2 L941.2 822.7 L944.7 827.4 L948.2 827.9 L951.8 827.8 L955.3 821.7 L958.8 823.6 L962.3 815.9 L965.9 822.3 L969.4 816.5 L972.9 817.4 L976.5 820.5 L980 823 L983.5 827.4 L987.1 822.1 L990.6 825.5 L994.1 826.8 L997.6 825.7 L1001.2 823.8 L1004.7 821.8 L1008.2 821.6 L1011.8 820.1 L1015.3 825.9 L1018.8 822.9 L1022.4 826.4 L1025.9 822.2 L1029.4 824.2 L1032.9 825.7 L1036.5 823 L1040 825.4 L1043.5 822.5 L1047.1 827.7 L1050.6 822.2 L1054.1 820.7 L1057.7 820.3 L1061.2 823.4 L1064.7 821.3 L1068.2 827.7 L1071.8 820.2 L1075.3 823.5 L1078.8 825.1 L1082.4 820.4 L1085.9 824.9 L1089.4 821.4 L1093 821.1 L1096.5 823.6 L1100 820.2 L1103.6 816.5 L1107.1 823.3 L1110.6 825.6 L1114.1 827.7 L1117.7 819.3 L1121.2 821.7 L1124.7 829.4 L1128.3 829 L1131.8 827.3 L1135.3 815.7 L1138.9 820.2 L1142.4 819.9 L1145.9 824.3 L1149.4 826.4 L1153 822.2 L1156.5 821.8 L1160 827.5 L1163.6 825.2 L1167.1 823 L1170.6 824.1 L1174.2 818.8 L1177.7 819.8 L1181.2 818.6 L1184.7 827 L1188.3 821.7 L1191.8 820.5 L1195.3 823.2 L1198.9 821.8 L1202.4 822.5 L1205.9 826 L1209.5 829.4 L1213 825.8 L1216.5 823.2 L1220 820.4 L1223.6 820.9 L1227.1 821.6 L1230.6 824.9 L1234.2 823.8 L1237.7 819.9 L1241.2 822.7 L1244.8 829.6 L1248.3 822.2 L1251.8 823.2 L1255.3 822 L1258.9 825.8 L1262.4 816.4 L1265.9 826.9 L1269.5 825.2 L1273 824.6 L1276.5 824.4 L1280.1 825.4 L1283.6 825.7 L1287.1 819.4 L1290.6 821.4 L1294.2 824.3 L1297.7 824.3 L1301.2 828.2 L1304.8 826.2 L1308.3 818.1 L1311.8 819.1 L1315.4 821.6 L1318.9 822.3 L1322.4 821.1 L1325.9 814.9 L1329.5 819.4 L1333 821.1 L1336.5 820.3 L1340.1 825.7 L1343.6 827.2 L1347.1 822.1 L1350.7 820.8 L1354.2 824.3 L1357.7 822.6 L1361.2 826 L1364.8 825.8 L1368.3 817.4 L1371.8 821 L1375.4 822.6 L1378.9 821.9 L1382.4 827.4 L1386 822 L1389.5 825.6 L1393 817.5 L1396.5 822.9 L1400.1 816.1 L1403.6 824.1 L1407.1 824.5 L1410.7 822.5 L1414.2 819.9 L1417.7 821.9 L1421.3 826.3 L1424.8 826.5 L1428.3 829.6 L1431.8 822 L1435.4 825.8 L1438.9 825.8 L1442.4 823.9 L1446 821.7 L1449.5 823.7 L1453 820.3 L1456.6 825.2 L1460.1 827.4 L1463.6 830.5 L1467.2 821.7 L1470.7 825.3 L1474.2 818.5 L1477.7 824.4 L1481.3 823.9 L1484.8 824.8 L1488.3 821.8 L1491.9 819.1 L1495.4 822.5 L1498.9 821 L1502.5 825.4 L1506 822.8 L1509.5 825 L1513 815.5 L1516.6 819.1 L1520.1 807.5 L1523.6 822.3 L1527.2 823.9 L1530.7 827.5 L1534.2 825.5 L1537.8 827.1 L1541.3 823.5 L1544.8 824.2 L1548.3 823.3 L1551.9 824.6 L1555.4 823.3 L1558.9 825.6 L1562.5 825.7 L1566 825.5 L1569.5 823 L1573.1 825.3 L1576.6 820.6 L1580.1 821.3 L1583.6 824.2 L1587.2 823.4 L1590.7 825.2 L1594.2 823.1 L1597.8 820.7 L1601.3 822.9 L1604.8 822.8 L1608.4 822.8 L1611.9 822.2 L1615.4 819.6 L1618.9 818.3 L1622.5 826.5 L1626 821.1 L1629.5 825.8 L1633.1 826.7 L1636.6 821.2 L1640.1 822.6 L1643.7 823.4 L1647.2 824.4 L1650.7 823.3 L1654.2 823.2 L1657.8 824.2 L1661.3 827.3 L1664.8 820 L1668.4 819.9 L1671.9 823.5 L1675.4 825.8 L1679 831.3 L1682.5 825.8 L1686 826.6 L1689.5 825.6 L1693.1 820.7 L1696.6 820.3 L1700.1 820.8 L1703.7 830.2 L1707.2 826.5 L1710.7 820.6 L1714.3 819.9 L1717.8 821.2 L1721.3 819 L1724.8 825.6 L1728.4 823.5 L1731.9 820.5 L1735.4 823.6 L1739 826.1 L1742.5 822.8 L1746 823.9 L1749.6 827.8 L1753.1 822.2 L1756.6 818.2 L1760.1 818.4 L1763.7 828.7 L1767.2 822.3 L1770.7 823.8 L1774.3 820.6 L1777.8 821.3 L1781.3 837.5 L1784.9 825.2 L1788.4 821.4 L1791.9 827.8 L1795.5 825.4 L1799 821.1 L1802.5 827.1 L1806 826 L1809.6 827.1 L1813.1 826.9 L1816.6 828 L1820.2 830.1 L1823.7 823.7 L1827.2 822.3 L1830.8 826.3 L1834.3 820.3 L1837.8 827.4 L1841.3 828.1 L1844.9 820.8 L1848.4 823.2 L1851.9 823.1 L1855.5 819.7 L1859 822.5 L1862.5 823.8 L1866.1 820.3 L1869.6 823.8 L1873.1 823.3 L1876.6 818.2 L1880.2 823.8 L1883.7 825.6 L1887.2 825.2 L1890.8 819.4 L1894.3 824 L1897.8 820.5 L1901.4 819.9 L1904.9 823 L1908.4 825 L1911.9 818.3 L1915.5 822.4 L1919 823.6 L1922.5 824 L1926.1 826.3 L1929.6 822.1 L1933.1 824.8 L1936.7 820.1 L1940.2 823.9 L1943.7 825.2 L1947.2 820.9 L1950.8 822.2 L1954.3 824.4 L1957.8 820.6 L1961.4 821.7 L1964.9 826.5 L1968.4 827.1 L1972 811 L1975.5 818.4 L1979 821.1 L1982.5 819.6 L1986.1 816.7 L1989.6 820.1 L1993.1 825.5 L1996.7 822.6 L2000.2 821.9 L2003.7 819.2 L2007.3 826.5 L2010.8 830.6 L2014.3 822.4 L2017.8 823 L2021.4 824.9 L2024.9 825.6 L2028.4 826 L2032 819.2 L2035.5 822.1 L2039 823.4 L2042.6 823.2 L2046.1 825.5 L2049.6 824.8 L2053.1 822.8 L2056.7 823.1 L2060.2 827.3 L2063.7 829 L2067.3 822.4 L2070.8 815.1 L2074.3 822.4 L2077.9 821.5 L2081.4 823.9 L2084.9 822.9 L2088.4 822.4 L2092 824.3 L2095.5 823.3 L2099 825 L2102.6 815.2 L2106.1 827.4 L2109.6 833.2 L2113.2 821.3 L2116.7 818.8 L2120.2 828.4 L2123.8 824 L2127.3 824.1 L2130.8 824.3 L2134.3 819.9 L2137.9 819.6 L2141.4 824.2 L2144.9 818 L2148.5 818.9 L2152 828.2 L2155.5 822.9 L2159.1 823.7 L2162.6 824.4 L2166.1 825.8 L2169.6 822.8 L2173.2 825.8 L2176.7 815.2 L2180.2 822.4 L2183.8 822.1 L2187.3 825.7 L2190.8 826.9 L2194.4 822.2 L2197.9 825.1 L2201.4 830.5 L2204.9 823.7 L2208.5 821.7 L2212 831 L2215.5 819.9 L2219.1 822.9 L2222.6 821.9 L2226.1 830.7 L2229.7 818.8 L2233.2 821.6 L2236.7 815 L2240.2 823.7 L2243.8 829.9 L2247.3 820.3 L2250.8 816.9 L2254.4 828 L2257.9 818.4 L2261.4 820.9 L2265 822.5 L2268.5 820.7 L2272 820.8 L2275.5 824.8 L2279.1 822.3 L2282.6 822.5 L2286.1 820.7 L2289.7 822 L2293.2 823.1 L2296.7 824.1 L2300.3 819 L2303.8 821.8 L2307.3 825.9 L2310.8 822.2 L2314.4 825.4 L2317.9 821.8 L2321.4 822.8 L2325 825.2 L2328.5 824.4 L2332 824.4 L2335.6 824.5 L2339.1 822.1 L2342.6 820.2 L2346.1 822.8 L2349.7 822.2 L2353.2 823.8 L2356.7 826.3 L2360.3 825.5 L2363.8 824.2 L2367.3 823.8 L2370.9 827.8 L2374.4 820.8 L2377.9 817.9 L2381.4 819.7 L2385 830.7 L2388.5 826.8 L2392 815.7 L2395.6 821.8 L2399.1 817.6 L2402.6 823.7 L2406.2 827.8 L2409.7 823.7 L2413.2 821.7 L2416.7 829.2 L2420.3 822.4 L2423.8 821.5 L2427.3 829.7 L2430.9 819.8 L2434.4 824.5 L2437.9 829 L2441.5 830.2 L2445 841.3 L2448.5 834.3 L2452 829.6 L2455.6 834.2 L2459.1 832.8 L2462.6 832.7 L2466.2 831.7 L2469.7 833.9" fill="none" stroke="#e377c2" stroke-width="2.08" stroke-linejoin="round"/>
<path d="M394 862.8 L413.5 862.8 L417 841.6 L420.5 862.8 L508.8 862.8 L512.3 841.6 L515.9 841.6 L519.4 862.8 L805.7 862.8 L809.2 841.6 L812.7 862.8 L812.9 862.8 L816.4 841.6 L819.9 862.8 L1566.4 862.8 L1569.9 841.6 L1573.4 862.8 L1595 862.8 L1598.5 841.6 L1602 862.8 L1630.3 862.8 L1633.8 841.6 L1637.3 862.8 L2132.5 862.8 L2136 841.6 L2139.5 862.8 L2341.2 862.8 L2344.7 841.6 L2348.2 862.8 L2447.4 862.8 L2450.9 841.6 L2454.4 862.8 L2469.7 862.8" fill="none" stroke="#8c564b" stroke-width="2.08" stroke-linejoin="round"/>
<path d="M394 873.9 L397.5 873.9 L401.1 878.9 L404.6 873.9 L408.1 876.4 L411.7 873.9 L415.2 882.9 L418.7 882.9 L422.2 873.9 L425.8 873.9 L429.3 882.9 L432.8 878.9 L436.4 878.9 L439.9 873.9 L443.4 873.9 L447 873.9 L450.5 882.9 L454 882.9 L457.5 876.4 L461.1 878.9 L464.6 882.9 L468.1 873.9 L471.7 882.9 L475.2 878.9 L478.7 878.9 L482.3 878.9 L485.8 878.9 L489.3 878.9 L492.8 882.9 L496.4 878.9 L499.9 882.9 L503.4 882.9 L507 882.9 L510.5 882.9 L514 882.9 L517.6 882.9 L521.1 882.9 L524.6 878.9 L528.1 878.9 L531.7 882.9 L535.2 882.9 L538.7 882.9 L542.3 882.9 L545.8 878.9 L549.3 882.9 L552.9 886.9 L556.4 882.9 L559.9 878.9 L563.4 873.9 L567 878.9 L570.5 886.9 L574 878.9 L577.6 882.9 L581.1 882.9 L584.6 876.4 L588.2 882.9 L591.7 878.9 L595.2 878.9 L598.7 873.9 L602.3 882.9 L605.8 882.9 L609.3 873.9 L612.9 882.9 L616.4 882.9 L619.9 873.9 L623.5 882.9 L627 878.9 L630.5 882.9 L634 882.9 L637.6 873.9 L641.1 878.9 L644.6 882.9 L648.2 882.9 L651.7 882.9 L655.2 882.9 L658.8 873.9 L662.3 873.9 L665.8 878.9 L669.3 878.9 L672.9 878.9 L676.4 882.9 L679.9 882.9 L683.5 886.9 L687 878.9 L690.5 878.9 L694.1 882.9 L697.6 886.9 L701.1 886.9 L704.6 878.9 L708.2 873.9 L711.7 882.9 L715.2 882.9 L718.8 882.9 L722.3 878.9 L725.8 882.9 L729.4 878.9 L732.9 882.9 L736.4 882.9 L740 882.9 L743.5 882.9 L747 870.4 L750.5 882.9 L754.1 882.9 L757.6 878.9 L761.1 882.9 L764.7 873.9 L768.2 882.9 L771.7 882.9 L775.3 882.9 L778.8 873.9 L782.3 882.9 L785.8 882.9 L789.4 886.9 L792.9 882.9 L796.4 870.4 L800 882.9 L803.5 882.9 L807 876.4 L810.6 878.9 L814.1 873.9 L817.6 878.9 L821.1 873.9 L824.7 882.9 L828.2 882.9 L831.7 882.9 L835.3 878.9 L838.8 878.9 L842.3 878.9 L845.9 873.9 L849.4 891.4 L852.9 882.9 L856.4 878.9 L860 886.9 L863.5 876.4 L867 878.9 L870.6 882.9 L874.1 882.9 L877.6 882.9 L881.2 891.4 L884.7 891.4 L888.2 878.9 L891.7 882.9 L895.3 873.9 L898.8 873.9 L902.3 876.4 L905.9 882.9 L909.4 882.9 L912.9 873.9 L916.5 873.9 L920 882.9 L923.5 882.9 L927 882.9 L930.6 882.9 L934.1 878.9 L937.6 882.9 L941.2 882.9 L944.7 873.9 L948.2 882.9 L951.8 873.9 L955.3 882.9 L958.8 882.9 L962.3 873.9 L965.9 886.9 L969.4 878.9 L972.9 876.4 L976.5 873.9 L980 878.9 L983.5 891.4 L987.1 891.4 L990.6 882.9 L994.1 873.9 L997.6 882.9 L1001.2 873.9 L1004.7 878.9 L1008.2 878.9 L1011.8 882.9 L1015.3 882.9 L1018.8 886.9 L1022.4 878.9 L1025.9 882.9 L1029.4 882.9 L1032.9 873.9 L1036.5 873.9 L1040 891.4 L1043.5 876.4 L1047.1 882.9 L1050.6 886.9 L1054.1 878.9 L1057.7 873.9 L1061.2 873.9 L1064.7 873.9 L1068.2 878.9 L1071.8 882.9 L1075.3 873.9 L1078.8 873.9 L1082.4 876.4 L1085.9 886.9 L1089.4 882.9 L1093 882.9 L1096.5 882.9 L1100 882.9 L1103.6 876.4 L1107.1 876.4 L1110.6 886.9 L1114.1 886.9 L1117.7 882.9 L1121.2 882.9 L1124.7 891.4 L1128.3 882.9 L1131.8 882.9 L1135.3 882.9 L1138.9 882.9 L1142.4 882.9 L1145.9 873.9 L1149.4 873.9 L1153 870.4 L1156.5 878.9 L1160 870.4 L1163.6 882.9 L1167.1 873.9 L1170.6 886.9 L1174.2 882.9 L1177.7 873.9 L1181.2 873.9 L1184.7 873.9 L1188.3 882.9 L1191.8 882.9 L1195.3 873.9 L1198.9 878.9 L1202.4 878.9 L1205.9 878.9 L1209.5 882.9 L1213 878.9 L1216.5 873.9 L1220 882.9 L1223.6 882.9 L1227.1 882.9 L1230.6 876.4 L1234.2 876.4 L1237.7 878.9 L1241.2 882.9 L1244.8 876.4 L1248.3 876.4 L1251.8 876.4 L1255.3 882.9 L1258.9 873.9 L1262.4 882.9 L1265.9 876.4 L1269.5 876.4 L1273 882.9 L1276.5 870.4 L1280.1 886.9 L1283.6 873.9 L1287.1 878.9 L1290.6 882.9 L1294.2 882.9 L1297.7 886.9 L1301.2 873.9 L1304.8 873.9 L1308.3 873.9 L1311.8 873.9 L1315.4 873.9 L1318.9 873.9 L1322.4 882.9 L1325.9 873.9 L1329.5 882.9 L1333 886.9 L1336.5 878.9 L1340.1 878.9 L1343.6 882.9 L1347.1 882.9 L1350.7 876.4 L1354.2 876.4 L1357.7 876.4 L1361.2 882.9 L1364.8 882.9 L1368.3 882.9 L1371.8 878.9 L1375.4 886.9 L1378.9 878.9 L1382.4 876.4 L1386 882.9 L1389.5 878.9 L1393 878.9 L1396.5 878.9 L1400.1 878.9 L1403.6 882.9 L1407.1 870.4 L1410.7 870.4 L1414.2 870.4 L1417.7 882.9 L1421.3 873.9 L1424.8 873.9 L1428.3 882.9 L1431.8 882.9 L1435.4 882.9 L1438.9 882.9 L1442.4 882.9 L1446 882.9 L1449.5 870.4 L1453 891.4 L1456.6 878.9 L1460.1 878.9 L1463.6 882.9 L1467.2 882.9 L1470.7 882.9 L1474.2 882.9 L1477.7 878.9 L1481.3 878.9 L1484.8 882.9 L1488.3 882.9 L1491.9 882.9 L1495.4 882.9 L1498.9 882.9 L1502.5 873.9 L1506 873.9 L1509.5 882.9 L1513 882.9 L1516.6 882.9 L1520.1 882.9 L1523.6 876.4 L1527.2 878.9 L1530.7 882.9 L1534.2 882.9 L1537.8 891.4 L1541.3 882.9 L1544.8 886.9 L1548.3 876.4 L1551.9 878.9 L1555.4 878.9 L1558.9 878.9 L1562.5 878.9 L1566 882.9 L1569.5 882.9 L1573.1 882.9 L1576.6 878.9 L1580.1 873.9 L1583.6 878.9 L1587.2 878.9 L1590.7 886.9 L1594.2 878.9 L1597.8 878.9 L1601.3 873.9 L1604.8 882.9 L1608.4 878.9 L1611.9 891.4 L1615.4 878.9 L1618.9 882.9 L1622.5 882.9 L1626 878.9 L1629.5 873.9 L1633.1 882.9 L1636.6 876.4 L1640.1 873.9 L1643.7 891.4 L1647.2 891.4 L1650.7 882.9 L1654.2 882.9 L1657.8 882.9 L1661.3 873.9 L1664.8 878.9 L1668.4 873.9 L1671.9 882.9 L1675.4 882.9 L1679 882.9 L1682.5 882.9 L1686 886.9 L1689.5 882.9 L1693.1 873.9 L1696.6 882.9 L1700.1 870.4 L1703.7 882.9 L1707.2 882.9 L1710.7 886.9 L1714.3 886.9 L1717.8 882.9 L1721.3 878.9 L1724.8 891.4 L1728.4 873.9 L1731.9 876.4 L1735.4 878.9 L1739 876.4 L1742.5 886.9 L1746 873.9 L1749.6 882.9 L1753.1 882.9 L1756.6 882.9 L1760.1 878.9 L1763.7 878.9 L1767.2 882.9 L1770.7 870.4 L1774.3 876.4 L1777.8 876.4 L1781.3 876.4 L1784.9 876.4 L1788.4 882.9 L1791.9 878.9 L1795.5 878.9 L1799 873.9 L1802.5 873.9 L1806 873.9 L1809.6 873.9 L1813.1 882.9 L1816.6 891.4 L1820.2 882.9 L1823.7 873.9 L1827.2 873.9 L1830.8 873.9 L1834.3 882.9 L1837.8 882.9 L1841.3 873.9 L1844.9 882.9 L1848.4 882.9 L1851.9 870.4 L1855.5 882.9 L1859 878.9 L1862.5 878.9 L1866.1 882.9 L1869.6 882.9 L1873.1 882.9 L1876.6 882.9 L1880.2 873.9 L1883.7 873.9 L1887.2 878.9 L1890.8 882.9 L1894.3 882.9 L1897.8 873.9 L1901.4 873.9 L1904.9 882.9 L1908.4 886.9 L1911.9 886.9 L1915.5 873.9 L1919 882.9 L1922.5 882.9 L1926.1 882.9 L1929.6 873.9 L1933.1 870.4 L1936.7 876.4 L1940.2 882.9 L1943.7 873.9 L1947.2 870.4 L1950.8 886.9 L1954.3 882.9 L1957.8 882.9 L1961.4 873.9 L1964.9 878.9 L1968.4 878.9 L1972 878.9 L1975.5 870.4 L1979 870.4 L1982.5 876.4 L1986.1 876.4 L1989.6 882.9 L1993.1 886.9 L1996.7 886.9 L2000.2 878.9 L2003.7 878.9 L2007.3 870.4 L2010.8 878.9 L2014.3 886.9 L2017.8 876.4 L2021.4 882.9 L2024.9 882.9 L2028.4 882.9 L2032 878.9 L2035.5 878.9 L2039 882.9 L2042.6 882.9 L2046.1 873.9 L2049.6 882.9 L2053.1 876.4 L2056.7 873.9 L2060.2 876.4 L2063.7 882.9 L2067.3 886.9 L2070.8 882.9 L2074.3 873.9 L2077.9 882.9 L2081.4 873.9 L2084.9 886.9 L2088.4 891.4 L2092 891.4 L2095.5 878.9 L2099 882.9 L2102.6 882.9 L2106.1 882.9 L2109.6 873.9 L2113.2 873.9 L2116.7 873.9 L2120.2 873.9 L2123.8 873.9 L2127.3 882.9 L2130.8 882.9 L2134.3 882.9 L2137.9 882.9 L2141.4 882.9 L2144.9 873.9 L2148.5 882.9 L2152 882.9 L2155.5 878.9 L2159.1 878.9 L2162.6 882.9 L2166.1 882.9 L2169.6 882.9 L2173.2 878.9 L2176.7 882.9 L2180.2 882.9 L2183.8 886.9 L2187.3 873.9 L2190.8 882.9 L2194.4 882.9 L2197.9 882.9 L2201.4 876.4 L2204.9 882.9 L2208.5 878.9 L2212 882.9 L2215.5 878.9 L2219.1 882.9 L2222.6 882.9 L2226.1 891.4 L2229.7 891.4 L2233.2 876.4 L2236.7 882.9 L2240.2 878.9 L2243.8 878.9 L2247.3 873.9 L2250.8 882.9 L2254.4 882.9 L2257.9 882.9 L2261.4 882.9 L2265 882.9 L2268.5 873.9 L2272 876.4 L2275.5 882.9 L2279.1 882.9 L2282.6 882.9 L2286.1 882.9 L2289.7 882.9 L2293.2 882.9 L2296.7 873.9 L2300.3 873.9 L2303.8 891.4 L2307.3 882.9 L2310.8 882.9 L2314.4 882.9 L2317.9 886.9 L2321.4 886.9 L2325 873.9 L2328.5 873.9 L2332 882.9 L2335.6 882.9 L2339.1 882.9 L2342.6 882.9 L2346.1 873.9 L2349.7 878.9 L2353.2 882.9 L2356.7 882.9 L2360.3 878.9 L2363.8 876.4 L2367.3 882.9 L2370.9 882.9 L2374.4 878.9 L2377.9 873.9 L2381.4 878.9 L2385 882.9 L2388.5 878.9 L2392 882.9 L2395.6 882.9 L2399.1 882.9 L2402.6 870.4 L2406.2 873.9 L2409.7 878.9 L2413.2 876.4 L2416.7 876.4 L2420.3 882.9 L2423.8 882.9 L2427.3 878.9 L2430.9 873.9 L2434.4 891.4 L2437.9 876.4 L2441.5 873.9 L2445 873.9 L2448.5 873.9 L2452 882.9 L2455.6 873.9 L2459.1 882.9 L2462.6 878.9 L2466.2 882.9 L2469.7 882.9" fill="none" stroke="#ff7f0e" stroke-width="2.08" stroke-linejoin="round"/>
<path d="M394 918.8 L395.8 918.8 L399.4 918.8 L402.9 918.8 L406.4 918.8 L409.9 918.8 L413.5 918.8 L417 908.2 L420.5 918.8 L424.1 897.3 L427.6 918.8 L431.1 918.8 L434.7 918.8 L438.2 918.8 L441.7 918.8 L445.2 918.8 L448.8 918.8 L452.3 908.2 L455.8 918.8 L459.4 918.8 L462.9 918.8 L466.4 908.2 L470 918.8 L473.5 918.8 L477 908.2 L480.6 918.8 L484.1 918.8 L487.6 918.8 L491.1 918.8 L494.7 918.8 L498.2 918.8 L501.7 908.2 L505.3 908.2 L508.8 918.8 L512.3 918.8 L515.9 918.8 L519.4 918.8 L522.9 918.8 L526.4 908.2 L530 918.8 L533.5 918.8 L537 918.8 L540.6 918.8 L544.1 908.2 L547.6 918.8 L551.1 918.8 L554.7 908.2 L558.2 918.8 L561.7 908.2 L565.3 918.8 L568.8 918.8 L572.3 918.8 L575.9 918.8 L579.4 918.8 L582.9 918.8 L586.5 918.8 L590 918.8 L593.5 918.8 L597 897.3 L600.6 918.8 L604.1 908.2 L607.6 918.8 L611.2 908.2 L614.7 918.8 L618.2 918.8 L621.8 918.8 L625.3 918.8 L628.8 918.8 L632.3 918.8 L635.9 908.2 L639.4 908.2 L642.9 918.8 L646.5 908.2 L650 918.8 L653.5 918.8 L657 918.8 L660.6 918.8 L664.1 918.8 L667.6 918.8 L671.2 908.2 L674.7 918.8 L678.2 918.8 L681.8 918.8 L685.3 897.3 L688.8 918.8 L692.4 918.8 L695.9 908.2 L699.4 918.8 L702.9 918.8 L706.5 918.8 L710 918.8 L713.5 918.8 L717.1 908.2 L720.6 908.2 L724.1 918.8 L727.6 918.8 L731.2 918.8 L734.7 918.8 L738.2 908.2 L741.8 908.2 L745.3 918.8 L748.8 918.8 L752.4 918.8 L755.9 918.8 L759.4 918.8 L763 908.2 L766.5 918.8 L770 918.8 L773.5 908.2 L777.1 918.8 L780.6 897.3 L784.1 918.8 L787.7 918.8 L791.2 918.8 L794.7 897.3 L798.2 918.8 L801.8 908.2 L805.3 918.8 L808.8 908.2 L812.4 918.8 L815.9 918.8 L819.4 918.8 L823 918.8 L826.5 908.2 L830 918.8 L833.5 918.8 L837.1 918.8 L840.6 918.8 L844.1 918.8 L847.7 918.8 L851.2 918.8 L854.7 908.2 L858.3 918.8 L861.8 918.8 L865.3 918.8 L868.8 918.8 L872.4 918.8 L875.9 918.8 L879.4 897.3 L883 918.8 L886.5 918.8 L890 918.8 L893.6 918.8 L897.1 918.8 L900.6 908.2 L904.1 918.8 L907.7 908.2 L911.2 918.8 L914.7 918.8 L918.3 918.8 L921.8 918.8 L925.3 918.8 L928.9 918.8 L932.4 897.3 L935.9 918.8 L939.5 908.2 L943 918.8 L946.5 918.8 L950 918.8 L953.6 918.8 L957.1 918.8 L960.6 908.2 L964.2 918.8 L967.7 908.2 L971.2 918.8 L974.8 908.2 L978.3 908.2 L981.8 897.3 L985.3 918.8 L988.9 918.8 L992.4 918.8 L995.9 918.8 L999.5 918.8 L1003 897.3 L1006.5 918.8 L1010 918.8 L1013.6 918.8 L1017.1 918.8 L1020.6 918.8 L1024.2 918.8 L1027.7 918.8 L1031.2 918.8 L1034.8 918.8 L1038.3 918.8 L1041.8 918.8 L1045.3 918.8 L1048.9 908.2 L1052.4 918.8 L1055.9 918.8 L1059.5 908.2 L1063 918.8 L1066.5 918.8 L1070.1 908.2 L1073.6 918.8 L1077.1 918.8 L1080.6 908.2 L1084.2 918.8 L1087.7 918.8 L1091.2 918.8 L1094.8 918.8 L1098.3 908.2 L1101.8 918.8 L1105.4 908.2 L1108.9 918.8 L1112.4 918.8 L1116 918.8 L1119.5 918.8 L1123 918.8 L1126.5 918.8 L1130.1 918.8 L1133.6 918.8 L1137.1 918.8 L1140.7 918.8 L1144.2 918.8 L1147.7 908.2 L1151.2 908.2 L1154.8 918.8 L1158.3 908.2 L1161.8 918.8 L1165.4 918.8 L1168.9 918.8 L1172.4 918.8 L1176 918.8 L1179.5 918.8 L1183 908.2 L1186.5 918.8 L1190.1 908.2 L1193.6 918.8 L1197.1 918.8 L1200.7 918.8 L1204.2 918.8 L1207.7 908.2 L1211.3 918.8 L1214.8 918.8 L1218.3 918.8 L1221.8 908.2 L1225.4 908.2 L1228.9 918.8 L1232.4 918.8 L1236 908.2 L1239.5 918.8 L1243 918.8 L1246.6 918.8 L1250.1 918.8 L1253.6 918.8 L1257.1 918.8 L1260.7 918.8 L1264.2 918.8 L1267.7 908.2 L1271.3 918.8 L1274.8 918.8 L1278.3 908.2 L1281.9 918.8 L1285.4 908.2 L1288.9 918.8 L1292.5 897.3 L1296 918.8 L1299.5 918.8 L1303 918.8 L1306.6 897.3 L1310.1 918.8 L1313.6 918.8 L1317.2 918.8 L1320.7 918.8 L1324.2 908.2 L1327.8 918.8 L1331.3 918.8 L1334.8 908.2 L1338.3 918.8 L1341.9 908.2 L1345.4 908.2 L1348.9 918.8 L1352.5 918.8 L1356 918.8 L1359.5 918.8 L1363 908.2 L1366.6 918.8 L1370.1 918.8 L1373.6 908.2 L1377.2 918.8 L1380.7 918.8 L1384.2 918.8 L1387.8 918.8 L1391.3 918.8 L1394.8 918.8 L1398.3 918.8 L1401.9 908.2 L1405.4 918.8 L1408.9 918.8 L1412.5 918.8 L1416 918.8 L1419.5 908.2 L1423.1 918.8 L1426.6 908.2 L1430.1 908.2 L1433.6 918.8 L1437.2 908.2 L1440.7 918.8 L1444.2 918.8 L1447.8 918.8 L1451.3 918.8 L1454.8 918.8 L1458.4 918.8 L1461.9 918.8 L1465.4 908.2 L1468.9 918.8 L1472.5 908.2 L1476 908.2 L1479.5 918.8 L1483.1 908.2 L1486.6 908.2 L1490.1 918.8 L1493.7 918.8 L1497.2 897.3 L1500.7 918.8 L1504.2 918.8 L1507.8 908.2 L1511.3 918.8 L1514.8 908.2 L1518.4 918.8 L1521.9 918.8 L1525.4 918.8 L1529 918.8 L1532.5 918.8 L1536 908.2 L1539.5 918.8 L1543.1 908.2 L1546.6 918.8 L1550.1 908.2 L1553.7 918.8 L1557.2 908.2 L1560.7 908.2 L1564.3 918.8 L1567.8 918.8 L1571.3 918.8 L1574.8 918.8 L1578.4 918.8 L1581.9 918.8 L1585.4 908.2 L1589 918.8 L1592.5 918.8 L1596 908.2 L1599.6 918.8 L1603.1 918.8 L1606.6 918.8 L1610.1 918.8 L1613.7 897.3 L1617.2 918.8 L1620.7 918.8 L1624.3 918.8 L1627.8 918.8 L1631.3 918.8 L1634.9 918.8 L1638.4 918.8 L1641.9 918.8 L1645.4 908.2 L1649 918.8 L1652.5 908.2 L1656 918.8 L1659.6 918.8 L1663.1 918.8 L1666.6 918.8 L1670.2 908.2 L1673.7 918.8 L1677.2 918.8 L1680.7 908.2 L1684.3 918.8 L1687.8 918.8 L1691.3 918.8 L1694.9 918.8 L1698.4 918.8 L1701.9 908.2 L1705.5 918.8 L1709 908.2 L1712.5 918.8 L1716 908.2 L1719.6 908.2 L1723.1 918.8 L1726.6 908.2 L1730.2 918.8 L1733.7 918.8 L1737.2 918.8 L1740.8 918.8 L1744.3 918.8 L1747.8 918.8 L1751.3 918.8 L1754.9 918.8 L1758.4 918.8 L1761.9 918.8 L1765.5 908.2 L1769 918.8 L1772.5 918.8 L1776.1 908.2 L1779.6 918.8 L1783.1 918.8 L1786.6 918.8 L1790.2 918.8 L1793.7 918.8 L1797.2 908.2 L1800.8 918.8 L1804.3 918.8 L1807.8 908.2 L1811.4 918.8 L1814.9 918.8 L1818.4 918.8 L1821.9 918.8 L1825.5 918.8 L1829 918.8 L1832.5 918.8 L1836.1 908.2 L1839.6 918.8 L1843.1 918.8 L1846.7 908.2 L1850.2 918.8 L1853.7 918.8 L1857.2 918.8 L1860.8 897.3 L1864.3 918.8 L1867.8 918.8 L1871.4 918.8 L1874.9 918.8 L1878.4 918.8 L1882 918.8 L1885.5 918.8 L1889 918.8 L1892.5 897.3 L1896.1 918.8 L1899.6 918.8 L1903.1 918.8 L1906.7 918.8 L1910.2 918.8 L1913.7 908.2 L1917.3 908.2 L1920.8 918.8 L1924.3 908.2 L1927.8 918.8 L1931.4 908.2 L1934.9 918.8 L1938.4 918.8 L1942 918.8 L1945.5 908.2 L1949 908.2 L1952.6 918.8 L1956.1 918.8 L1959.6 918.8 L1963.1 908.2 L1966.7 908.2 L1970.2 918.8 L1973.7 918.8 L1977.3 897.3 L1980.8 918.8 L1984.3 918.8 L1987.9 918.8 L1991.4 918.8 L1994.9 918.8 L1998.4 897.3 L2002 918.8 L2005.5 918.8 L2009 918.8 L2012.6 908.2 L2016.1 918.8 L2019.6 918.8 L2023.2 918.8 L2026.7 918.8 L2030.2 918.8 L2033.7 918.8 L2037.3 908.2 L2040.8 908.2 L2044.3 918.8 L2047.9 918.8 L2051.4 908.2 L2054.9 908.2 L2058.5 918.8 L2062 918.8 L2065.5 908.2 L2069.1 908.2 L2072.6 897.3 L2076.1 918.8 L2079.6 918.8 L2083.2 918.8 L2086.7 918.8 L2090.2 918.8 L2093.8 918.8 L2097.3 918.8 L2100.8 908.2 L2104.3 918.8 L2107.9 908.2 L2111.4 918.8 L2114.9 918.8 L2118.5 918.8 L2122 908.2 L2125.5 918.8 L2129.1 918.8 L2132.6 918.8 L2136.1 897.3 L2139.7 918.8 L2143.2 918.8 L2146.7 918.8 L2150.2 918.8 L2153.8 918.8 L2157.3 918.8 L2160.8 918.8 L2164.4 918.8 L2167.9 908.2 L2171.4 918.8 L2174.9 918.8 L2178.5 918.8 L2182 918.8 L2185.5 918.8 L2189.1 908.2 L2192.6 918.8 L2196.1 908.2 L2199.7 918.8 L2203.2 908.2 L2206.7 918.8 L2210.2 918.8 L2213.8 918.8 L2217.3 918.8 L2220.8 908.2 L2224.4 918.8 L2227.9 918.8 L2231.4 918.8 L2235 918.8 L2238.5 918.8 L2242 918.8 L2245.6 918.8 L2249.1 918.8 L2252.6 918.8 L2256.1 918.8 L2259.7 918.8 L2263.2 918.8 L2266.7 918.8 L2270.3 918.8 L2273.8 918.8 L2277.3 918.8 L2280.8 918.8 L2284.4 918.8 L2287.9 918.8 L2291.4 918.8 L2295 918.8 L2298.5 918.8 L2302 908.2 L2305.6 918.8 L2309.1 918.8 L2312.6 908.2 L2316.2 908.2 L2319.7 918.8 L2323.2 918.8 L2326.7 918.8 L2330.3 918.8 L2333.8 918.8 L2337.3 918.8 L2340.9 918.8 L2344.4 918.8 L2347.9 918.8 L2351.4 908.2 L2355 908.2 L2358.5 918.8 L2362 908.2 L2365.6 918.8 L2369.1 908.2 L2372.6 918.8 L2376.2 918.8 L2379.7 918.8 L2383.2 908.2 L2386.8 908.2 L2390.3 918.8 L2393.8 918.8 L2397.3 908.2 L2400.9 918.8 L2404.4 908.2 L2407.9 918.8 L2411.5 918.8 L2415 918.8 L2418.5 918.8 L2422.1 918.8 L2425.6 897.3 L2429.1 918.8 L2432.6 918.8 L2436.2 908.2 L2439.7 908.2 L2443.2 918.8 L2446.8 918.8 L2450.3 918.8 L2453.8 918.8 L2457.3 918.8 L2460.9 918.8 L2464.4 918.8 L2467.9 918.8 L2469.7 918.8" fill="none" stroke="#d62728" stroke-width="2.08" stroke-linejoin="round"/>
<text x="204.8" y="653.1" font-size="25.3" text-anchor="middle" style="fill:#1f77b4">3D clusters tumor-type</text>
<text x="204.8" y="681.1" font-size="25.3" text-anchor="middle" style="fill:#1f77b4">3D clusters pan-cancer</text>
<text x="204.8" y="709" font-size="25.3" text-anchor="middle" style="fill:#17becf">Linear clusters tumor-type</text>
<text x="204.8" y="737" font-size="25.3" text-anchor="middle" style="fill:#17becf">Linear clusters pan-cancer</text>
<text x="204.8" y="765" font-size="25.3" text-anchor="middle" style="fill:#2ca02c">Domain enrichment tumor-type</text>
<text x="204.8" y="793" font-size="25.3" text-anchor="middle" style="fill:#2ca02c">Domain enrichment pan-cancer</text>
<text x="204.8" y="820.9" font-size="25.3" text-anchor="middle" style="fill:#e377c2">Conservation</text>
<text x="204.8" y="848.9" font-size="25.3" text-anchor="middle" style="fill:#8c564b">Post-translational modifications</text>
<text x="204.8" y="876.9" font-size="25.3" text-anchor="middle" style="fill:#ff7f0e">Missense</text>
<text x="204.8" y="904.8" font-size="25.3" text-anchor="middle" style="fill:#d62728">Nonsense</text>
<g stroke="#000" stroke-width="3.8" fill="none">
<path d="M2983.5 227.9 L2983.5 892.4 L3414.7 892.4" stroke-linecap="square"/>
<line x1="2968.6" y1="859.4" x2="2983.5" y2="859.4" stroke-width="3.4"/>
<line x1="2968.6" y1="759.8" x2="2983.5" y2="759.8" stroke-width="3.4"/>
<line x1="2968.6" y1="660.1" x2="2983.5" y2="660.1" stroke-width="3.4"/>
<line x1="2968.6" y1="560.5" x2="2983.5" y2="560.5" stroke-width="3.4"/>
<line x1="2968.6" y1="460.8" x2="2983.5" y2="460.8" stroke-width="3.4"/>
<line x1="2968.6" y1="361.1" x2="2983.5" y2="361.1" stroke-width="3.4"/>
<line x1="2968.6" y1="261.5" x2="2983.5" y2="261.5" stroke-width="3.4"/>
<line x1="3006.4" y1="892.4" x2="3006.4" y2="907.8" stroke-width="3.4"/>
<line x1="3152.6" y1="892.4" x2="3152.6" y2="907.8" stroke-width="3.4"/>
<line x1="3298.7" y1="892.4" x2="3298.7" y2="907.8" stroke-width="3.4"/>
</g>
<text transform="translate(2952.5,875.8) scale(1,1.044)" font-size="41.67" text-anchor="end">0</text>
<text transform="translate(2952.5,776.1) scale(1,1.044)" font-size="41.67" text-anchor="end">5</text>
<text transform="translate(2952.5,676.5) scale(1,1.044)" font-size="41.67" text-anchor="end">10</text>
<text transform="translate(2952.5,576.9) scale(1,1.044)" font-size="41.67" text-anchor="end">15</text>
<text transform="translate(2952.5,477.2) scale(1,1.044)" font-size="41.67" text-anchor="end">20</text>
<text transform="translate(2952.5,377.5) scale(1,1.044)" font-size="41.67" text-anchor="end">25</text>
<text transform="translate(2952.5,277.9) scale(1,1.044)" font-size="41.67" text-anchor="end">30</text>
<text transform="translate(3006.4,954) scale(1,1.044)" font-size="41.67" text-anchor="middle">0</text>
<text transform="translate(3151.4,954) scale(1,1.044)" font-size="41.67" text-anchor="middle">250</text>
<text transform="translate(3298.7,954) scale(1,1.044)" font-size="41.67" text-anchor="middle">500</text>
<text x="3198.8" y="1000.9" font-size="33.33" text-anchor="middle">no. samples</text>
<text transform="translate(2886.3,561.9) rotate(-90)" font-size="33.33" text-anchor="middle">no. unique mutations</text>
<g fill="#808080" stroke="#808080" stroke-width="4.0">
<circle cx="3006.4" cy="859.4" r="4.55" fill-opacity="1.00" stroke-opacity="1.00"/>
<circle cx="3026.7" cy="839.5" r="4.55" fill-opacity="0.44" stroke-opacity="0.44"/>
<circle cx="3067.3" cy="839.5" r="4.55" fill-opacity="0.09" stroke-opacity="0.09"/>
<circle cx="3026.7" cy="819.5" r="4.55" fill-opacity="0.76" stroke-opacity="0.76"/>
<circle cx="3047" cy="819.5" r="4.55" fill-opacity="0.29" stroke-opacity="0.29"/>
<circle cx="3067.3" cy="819.5" r="4.55" fill-opacity="0.09" stroke-opacity="0.09"/>
<circle cx="3026.7" cy="799.6" r="4.55" fill-opacity="0.88" stroke-opacity="0.88"/>
<circle cx="3047" cy="799.6" r="4.55" fill-opacity="0.76" stroke-opacity="0.76"/>
<circle cx="3067.3" cy="799.6" r="4.55" fill-opacity="0.17" stroke-opacity="0.17"/>
<circle cx="3026.7" cy="779.7" r="4.55" fill-opacity="0.88" stroke-opacity="0.88"/>
<circle cx="3047" cy="779.7" r="4.55" fill-opacity="0.76" stroke-opacity="0.76"/>
<circle cx="3067.3" cy="779.7" r="4.55" fill-opacity="0.25" stroke-opacity="0.25"/>
<circle cx="3026.7" cy="759.8" r="4.55" fill-opacity="0.29" stroke-opacity="0.29"/>
<circle cx="3047" cy="759.8" r="4.55" fill-opacity="0.76" stroke-opacity="0.76"/>
<circle cx="3067.3" cy="759.8" r="4.55" fill-opacity="0.65" stroke-opacity="0.65"/>
<circle cx="3087.6" cy="759.8" r="4.55" fill-opacity="0.25" stroke-opacity="0.25"/>
<circle cx="3026.7" cy="739.8" r="4.55" fill-opacity="0.21" stroke-opacity="0.21"/>
<circle cx="3047" cy="739.8" r="4.55" fill-opacity="0.88" stroke-opacity="0.88"/>
<circle cx="3067.3" cy="739.8" r="4.55" fill-opacity="0.76" stroke-opacity="0.76"/>
<circle cx="3087.6" cy="739.8" r="4.55" fill-opacity="0.54" stroke-opacity="0.54"/>
<circle cx="3107.9" cy="739.8" r="4.55" fill-opacity="0.07" stroke-opacity="0.07"/>
<circle cx="3128.2" cy="739.8" r="4.55" fill-opacity="0.09" stroke-opacity="0.09"/>
<circle cx="3026.7" cy="719.9" r="4.55" fill-opacity="0.13" stroke-opacity="0.13"/>
<circle cx="3047" cy="719.9" r="4.55" fill-opacity="0.54" stroke-opacity="0.54"/>
<circle cx="3067.3" cy="719.9" r="4.55" fill-opacity="0.76" stroke-opacity="0.76"/>
<circle cx="3087.6" cy="719.9" r="4.55" fill-opacity="0.76" stroke-opacity="0.76"/>
<circle cx="3107.9" cy="719.9" r="4.55" fill-opacity="0.44" stroke-opacity="0.44"/>
<circle cx="3047" cy="700" r="4.55" fill-opacity="0.29" stroke-opacity="0.29"/>
<circle cx="3067.3" cy="700" r="4.55" fill-opacity="0.88" stroke-opacity="0.88"/>
<circle cx="3087.6" cy="700" r="4.55" fill-opacity="0.76" stroke-opacity="0.76"/>
<circle cx="3107.9" cy="700" r="4.55" fill-opacity="0.54" stroke-opacity="0.54"/>
<circle cx="3128.2" cy="700" r="4.55" fill-opacity="0.25" stroke-opacity="0.25"/>
<circle cx="3148.5" cy="700" r="4.55" fill-opacity="0.09" stroke-opacity="0.09"/>
<circle cx="3026.7" cy="680" r="4.55" fill-opacity="0.09" stroke-opacity="0.09"/>
<circle cx="3047" cy="680" r="4.55" fill-opacity="0.13" stroke-opacity="0.13"/>
<circle cx="3067.3" cy="680" r="4.55" fill-opacity="0.34" stroke-opacity="0.34"/>
<circle cx="3087.6" cy="680" r="4.55" fill-opacity="0.76" stroke-opacity="0.76"/>
<circle cx="3107.9" cy="680" r="4.55" fill-opacity="0.54" stroke-opacity="0.54"/>
<circle cx="3128.2" cy="680" r="4.55" fill-opacity="0.29" stroke-opacity="0.29"/>
<circle cx="3148.5" cy="680" r="4.55" fill-opacity="0.39" stroke-opacity="0.39"/>
<circle cx="3189.1" cy="680" r="4.55" fill-opacity="0.09" stroke-opacity="0.09"/>
<circle cx="3067.3" cy="660.1" r="4.55" fill-opacity="0.59" stroke-opacity="0.59"/>
<circle cx="3087.6" cy="660.1" r="4.55" fill-opacity="0.54" stroke-opacity="0.54"/>
<circle cx="3107.9" cy="660.1" r="4.55" fill-opacity="0.65" stroke-opacity="0.65"/>
<circle cx="3128.2" cy="660.1" r="4.55" fill-opacity="0.44" stroke-opacity="0.44"/>
<circle cx="3148.5" cy="660.1" r="4.55" fill-opacity="0.17" stroke-opacity="0.17"/>
<circle cx="3168.8" cy="660.1" r="4.55" fill-opacity="0.18" stroke-opacity="0.18"/>
<circle cx="3067.3" cy="640.2" r="4.55" fill-opacity="0.25" stroke-opacity="0.25"/>
<circle cx="3087.6" cy="640.2" r="4.55" fill-opacity="0.54" stroke-opacity="0.54"/>
<circle cx="3107.9" cy="640.2" r="4.55" fill-opacity="0.88" stroke-opacity="0.88"/>
<circle cx="3128.2" cy="640.2" r="4.55" fill-opacity="0.76" stroke-opacity="0.76"/>
<circle cx="3148.5" cy="640.2" r="4.55" fill-opacity="0.44" stroke-opacity="0.44"/>
<circle cx="3168.8" cy="640.2" r="4.55" fill-opacity="0.25" stroke-opacity="0.25"/>
<circle cx="3189.1" cy="640.2" r="4.55" fill-opacity="0.10" stroke-opacity="0.10"/>
<circle cx="3067.3" cy="620.2" r="4.55" fill-opacity="0.25" stroke-opacity="0.25"/>
<circle cx="3087.6" cy="620.2" r="4.55" fill-opacity="0.44" stroke-opacity="0.44"/>
<circle cx="3107.9" cy="620.2" r="4.55" fill-opacity="0.65" stroke-opacity="0.65"/>
<circle cx="3128.2" cy="620.2" r="4.55" fill-opacity="0.65" stroke-opacity="0.65"/>
<circle cx="3148.5" cy="620.2" r="4.55" fill-opacity="0.44" stroke-opacity="0.44"/>
<circle cx="3168.8" cy="620.2" r="4.55" fill-opacity="0.25" stroke-opacity="0.25"/>
<circle cx="3189.1" cy="620.2" r="4.55" fill-opacity="0.13" stroke-opacity="0.13"/>
<circle cx="3209.5" cy="620.2" r="4.55" fill-opacity="0.09" stroke-opacity="0.09"/>
<circle cx="3087.6" cy="600.3" r="4.55" fill-opacity="0.17" stroke-opacity="0.17"/>
<circle cx="3107.9" cy="600.3" r="4.55" fill-opacity="0.65" stroke-opacity="0.65"/>
<circle cx="3128.2" cy="600.3" r="4.55" fill-opacity="0.76" stroke-opacity="0.76"/>
<circle cx="3148.5" cy="600.3" r="4.55" fill-opacity="0.88" stroke-opacity="0.88"/>
<circle cx="3168.8" cy="600.3" r="4.55" fill-opacity="0.25" stroke-opacity="0.25"/>
<circle cx="3189.1" cy="600.3" r="4.55" fill-opacity="0.29" stroke-opacity="0.29"/>
<circle cx="3209.5" cy="600.3" r="4.55" fill-opacity="0.10" stroke-opacity="0.10"/>
<circle cx="3087.6" cy="580.4" r="4.55" fill-opacity="0.17" stroke-opacity="0.17"/>
<circle cx="3107.9" cy="580.4" r="4.55" fill-opacity="0.44" stroke-opacity="0.44"/>
<circle cx="3128.2" cy="580.4" r="4.55" fill-opacity="0.65" stroke-opacity="0.65"/>
<circle cx="3148.5" cy="580.4" r="4.55" fill-opacity="0.25" stroke-opacity="0.25"/>
<circle cx="3168.8" cy="580.4" r="4.55" fill-opacity="0.82" stroke-opacity="0.82"/>
<circle cx="3189.1" cy="580.4" r="4.55" fill-opacity="0.11" stroke-opacity="0.11"/>
<circle cx="3209.5" cy="580.4" r="4.55" fill-opacity="0.34" stroke-opacity="0.34"/>
<circle cx="3229.8" cy="580.4" r="4.55" fill-opacity="0.13" stroke-opacity="0.13"/>
<circle cx="3087.6" cy="560.5" r="4.55" fill-opacity="0.09" stroke-opacity="0.09"/>
<circle cx="3128.2" cy="560.5" r="4.55" fill-opacity="0.44" stroke-opacity="0.44"/>
<circle cx="3148.5" cy="560.5" r="4.55" fill-opacity="0.59" stroke-opacity="0.59"/>
<circle cx="3168.8" cy="560.5" r="4.55" fill-opacity="0.44" stroke-opacity="0.44"/>
<circle cx="3189.1" cy="560.5" r="4.55" fill-opacity="0.54" stroke-opacity="0.54"/>
<circle cx="3209.5" cy="560.5" r="4.55" fill-opacity="0.49" stroke-opacity="0.49"/>
<circle cx="3229.8" cy="560.5" r="4.55" fill-opacity="0.44" stroke-opacity="0.44"/>
<circle cx="3250.1" cy="560.5" r="4.55" fill-opacity="0.10" stroke-opacity="0.10"/>
<circle cx="3087.6" cy="540.5" r="4.55" fill-opacity="0.09" stroke-opacity="0.09"/>
<circle cx="3107.9" cy="540.5" r="4.55" fill-opacity="0.07" stroke-opacity="0.07"/>
<circle cx="3128.2" cy="540.5" r="4.55" fill-opacity="0.34" stroke-opacity="0.34"/>
<circle cx="3148.5" cy="540.5" r="4.55" fill-opacity="0.59" stroke-opacity="0.59"/>
<circle cx="3168.8" cy="540.5" r="4.55" fill-opacity="0.76" stroke-opacity="0.76"/>
<circle cx="3189.1" cy="540.5" r="4.55" fill-opacity="0.88" stroke-opacity="0.88"/>
<circle cx="3209.5" cy="540.5" r="4.55" fill-opacity="0.59" stroke-opacity="0.59"/>
<circle cx="3229.8" cy="540.5" r="4.55" fill-opacity="0.39" stroke-opacity="0.39"/>
<circle cx="3250.1" cy="540.5" r="4.55" fill-opacity="0.09" stroke-opacity="0.09"/>
<circle cx="3290.7" cy="540.5" r="4.55" fill-opacity="0.09" stroke-opacity="0.09"/>
<circle cx="3128.2" cy="520.6" r="4.55" fill-opacity="0.34" stroke-opacity="0.34"/>
<circle cx="3148.5" cy="520.6" r="4.55" fill-opacity="0.49" stroke-opacity="0.49"/>
<circle cx="3168.8" cy="520.6" r="4.55" fill-opacity="0.88" stroke-opacity="0.88"/>
<circle cx="3189.1" cy="520.6" r="4.55" fill-opacity="0.54" stroke-opacity="0.54"/>
<circle cx="3209.5" cy="520.6" r="4.55" fill-opacity="0.54" stroke-opacity="0.54"/>
<circle cx="3229.8" cy="520.6" r="4.55" fill-opacity="0.44" stroke-opacity="0.44"/>
<circle cx="3250.1" cy="520.6" r="4.55" fill-opacity="0.21" stroke-opacity="0.21"/>
<circle cx="3270.4" cy="520.6" r="4.55" fill-opacity="0.10" stroke-opacity="0.10"/>
<circle cx="3148.5" cy="500.7" r="4.55" fill-opacity="0.44" stroke-opacity="0.44"/>
<circle cx="3168.8" cy="500.7" r="4.55" fill-opacity="0.44" stroke-opacity="0.44"/>
<circle cx="3189.1" cy="500.7" r="4.55" fill-opacity="0.82" stroke-opacity="0.82"/>
<circle cx="3209.5" cy="500.7" r="4.55" fill-opacity="0.65" stroke-opacity="0.65"/>
<circle cx="3229.8" cy="500.7" r="4.55" fill-opacity="0.39" stroke-opacity="0.39"/>
<circle cx="3250.1" cy="500.7" r="4.55" fill-opacity="0.29" stroke-opacity="0.29"/>
<circle cx="3270.4" cy="500.7" r="4.55" fill-opacity="0.25" stroke-opacity="0.25"/>
<circle cx="3290.7" cy="500.7" r="4.55" fill-opacity="0.17" stroke-opacity="0.17"/>
<circle cx="3148.5" cy="480.7" r="4.55" fill-opacity="0.11" stroke-opacity="0.11"/>
<circle cx="3168.8" cy="480.7" r="4.55" fill-opacity="0.29" stroke-opacity="0.29"/>
<circle cx="3189.1" cy="480.7" r="4.55" fill-opacity="0.44" stroke-opacity="0.44"/>
<circle cx="3209.5" cy="480.7" r="4.55" fill-opacity="0.65" stroke-opacity="0.65"/>
<circle cx="3229.8" cy="480.7" r="4.55" fill-opacity="0.76" stroke-opacity="0.76"/>
<circle cx="3250.1" cy="480.7" r="4.55" fill-opacity="0.59" stroke-opacity="0.59"/>
<circle cx="3270.4" cy="480.7" r="4.55" fill-opacity="0.65" stroke-opacity="0.65"/>
<circle cx="3290.7" cy="480.7" r="4.55" fill-opacity="0.10" stroke-opacity="0.10"/>
<circle cx="3128.2" cy="460.8" r="4.55" fill-opacity="0.07" stroke-opacity="0.07"/>
<circle cx="3148.5" cy="460.8" r="4.55" fill-opacity="0.11" stroke-opacity="0.11"/>
<circle cx="3168.8" cy="460.8" r="4.55" fill-opacity="0.25" stroke-opacity="0.25"/>
<circle cx="3189.1" cy="460.8" r="4.55" fill-opacity="0.54" stroke-opacity="0.54"/>
<circle cx="3209.5" cy="460.8" r="4.55" fill-opacity="0.44" stroke-opacity="0.44"/>
<circle cx="3229.8" cy="460.8" r="4.55" fill-opacity="0.65" stroke-opacity="0.65"/>
<circle cx="3250.1" cy="460.8" r="4.55" fill-opacity="0.76" stroke-opacity="0.76"/>
<circle cx="3270.4" cy="460.8" r="4.55" fill-opacity="0.76" stroke-opacity="0.76"/>
<circle cx="3290.7" cy="460.8" r="4.55" fill-opacity="0.34" stroke-opacity="0.34"/>
<circle cx="3311" cy="460.8" r="4.55" fill-opacity="0.11" stroke-opacity="0.11"/>
<circle cx="3148.5" cy="440.9" r="4.55" fill-opacity="0.07" stroke-opacity="0.07"/>
<circle cx="3168.8" cy="440.9" r="4.55" fill-opacity="0.11" stroke-opacity="0.11"/>
<circle cx="3189.1" cy="440.9" r="4.55" fill-opacity="0.17" stroke-opacity="0.17"/>
<circle cx="3209.5" cy="440.9" r="4.55" fill-opacity="0.76" stroke-opacity="0.76"/>
<circle cx="3229.8" cy="440.9" r="4.55" fill-opacity="0.76" stroke-opacity="0.76"/>
<circle cx="3250.1" cy="440.9" r="4.55" fill-opacity="0.65" stroke-opacity="0.65"/>
<circle cx="3270.4" cy="440.9" r="4.55" fill-opacity="0.17" stroke-opacity="0.17"/>
<circle cx="3290.7" cy="440.9" r="4.55" fill-opacity="0.25" stroke-opacity="0.25"/>
<circle cx="3311" cy="440.9" r="4.55" fill-opacity="0.25" stroke-opacity="0.25"/>
<circle cx="3168.8" cy="420.9" r="4.55" fill-opacity="0.07" stroke-opacity="0.07"/>
<circle cx="3189.1" cy="420.9" r="4.55" fill-opacity="0.11" stroke-opacity="0.11"/>
<circle cx="3209.5" cy="420.9" r="4.55" fill-opacity="0.44" stroke-opacity="0.44"/>
<circle cx="3229.8" cy="420.9" r="4.55" fill-opacity="0.54" stroke-opacity="0.54"/>
<circle cx="3250.1" cy="420.9" r="4.55" fill-opacity="0.76" stroke-opacity="0.76"/>
<circle cx="3270.4" cy="420.9" r="4.55" fill-opacity="0.65" stroke-opacity="0.65"/>
<circle cx="3290.7" cy="420.9" r="4.55" fill-opacity="0.70" stroke-opacity="0.70"/>
<circle cx="3311" cy="420.9" r="4.55" fill-opacity="0.39" stroke-opacity="0.39"/>
<circle cx="3351.6" cy="420.9" r="4.55" fill-opacity="0.09" stroke-opacity="0.09"/>
<circle cx="3189.1" cy="401" r="4.55" fill-opacity="0.09" stroke-opacity="0.09"/>
<circle cx="3209.5" cy="401" r="4.55" fill-opacity="0.17" stroke-opacity="0.17"/>
<circle cx="3229.8" cy="401" r="4.55" fill-opacity="0.44" stroke-opacity="0.44"/>
<circle cx="3250.1" cy="401" r="4.55" fill-opacity="0.54" stroke-opacity="0.54"/>
<circle cx="3270.4" cy="401" r="4.55" fill-opacity="0.54" stroke-opacity="0.54"/>
<circle cx="3290.7" cy="401" r="4.55" fill-opacity="0.65" stroke-opacity="0.65"/>
<circle cx="3311" cy="401" r="4.55" fill-opacity="0.34" stroke-opacity="0.34"/>
<circle cx="3331.3" cy="401" r="4.55" fill-opacity="0.17" stroke-opacity="0.17"/>
<circle cx="3209.5" cy="381.1" r="4.55" fill-opacity="0.09" stroke-opacity="0.09"/>
<circle cx="3229.8" cy="381.1" r="4.55" fill-opacity="0.21" stroke-opacity="0.21"/>
<circle cx="3250.1" cy="381.1" r="4.55" fill-opacity="0.65" stroke-opacity="0.65"/>
<circle cx="3270.4" cy="381.1" r="4.55" fill-opacity="0.65" stroke-opacity="0.65"/>
<circle cx="3290.7" cy="381.1" r="4.55" fill-opacity="0.44" stroke-opacity="0.44"/>
<circle cx="3311" cy="381.1" r="4.55" fill-opacity="0.70" stroke-opacity="0.70"/>
<circle cx="3331.3" cy="381.1" r="4.55" fill-opacity="0.29" stroke-opacity="0.29"/>
<circle cx="3351.6" cy="381.1" r="4.55" fill-opacity="0.13" stroke-opacity="0.13"/>
<circle cx="3209.5" cy="361.1" r="4.55" fill-opacity="0.09" stroke-opacity="0.09"/>
<circle cx="3229.8" cy="361.1" r="4.55" fill-opacity="0.17" stroke-opacity="0.17"/>
<circle cx="3250.1" cy="361.1" r="4.55" fill-opacity="0.25" stroke-opacity="0.25"/>
<circle cx="3270.4" cy="361.1" r="4.55" fill-opacity="0.54" stroke-opacity="0.54"/>
<circle cx="3290.7" cy="361.1" r="4.55" fill-opacity="0.59" stroke-opacity="0.59"/>
<circle cx="3311" cy="361.1" r="4.55" fill-opacity="0.76" stroke-opacity="0.76"/>
<circle cx="3331.3" cy="361.1" r="4.55" fill-opacity="0.65" stroke-opacity="0.65"/>
<circle cx="3351.6" cy="361.1" r="4.55" fill-opacity="0.34" stroke-opacity="0.34"/>
<circle cx="3229.8" cy="341.2" r="4.55" fill-opacity="0.17" stroke-opacity="0.17"/>
<circle cx="3250.1" cy="341.2" r="4.55" fill-opacity="0.09" stroke-opacity="0.09"/>
<circle cx="3270.4" cy="341.2" r="4.55" fill-opacity="0.39" stroke-opacity="0.39"/>
<circle cx="3290.7" cy="341.2" r="4.55" fill-opacity="0.65" stroke-opacity="0.65"/>
<circle cx="3311" cy="341.2" r="4.55" fill-opacity="0.76" stroke-opacity="0.76"/>
<circle cx="3331.3" cy="341.2" r="4.55" fill-opacity="0.76" stroke-opacity="0.76"/>
<circle cx="3351.6" cy="341.2" r="4.55" fill-opacity="0.54" stroke-opacity="0.54"/>
<circle cx="3371.9" cy="341.2" r="4.55" fill-opacity="0.13" stroke-opacity="0.13"/>
<circle cx="3250.1" cy="321.3" r="4.55" fill-opacity="0.09" stroke-opacity="0.09"/>
<circle cx="3270.4" cy="321.3" r="4.55" fill-opacity="0.25" stroke-opacity="0.25"/>
<circle cx="3290.7" cy="321.3" r="4.55" fill-opacity="0.29" stroke-opacity="0.29"/>
<circle cx="3311" cy="321.3" r="4.55" fill-opacity="0.44" stroke-opacity="0.44"/>
<circle cx="3331.3" cy="321.3" r="4.55" fill-opacity="0.76" stroke-opacity="0.76"/>
<circle cx="3351.6" cy="321.3" r="4.55" fill-opacity="0.82" stroke-opacity="0.82"/>
<circle cx="3371.9" cy="321.3" r="4.55" fill-opacity="0.44" stroke-opacity="0.44"/>
<circle cx="3250.1" cy="301.4" r="4.55" fill-opacity="0.09" stroke-opacity="0.09"/>
<circle cx="3270.4" cy="301.4" r="4.55" fill-opacity="0.13" stroke-opacity="0.13"/>
<circle cx="3290.7" cy="301.4" r="4.55" fill-opacity="0.29" stroke-opacity="0.29"/>
<circle cx="3311" cy="301.4" r="4.55" fill-opacity="0.34" stroke-opacity="0.34"/>
<circle cx="3331.3" cy="301.4" r="4.55" fill-opacity="0.65" stroke-opacity="0.65"/>
<circle cx="3351.6" cy="301.4" r="4.55" fill-opacity="0.76" stroke-opacity="0.76"/>
<circle cx="3371.9" cy="301.4" r="4.55" fill-opacity="0.76" stroke-opacity="0.76"/>
<circle cx="3270.4" cy="281.4" r="4.55" fill-opacity="0.09" stroke-opacity="0.09"/>
<circle cx="3290.7" cy="281.4" r="4.55" fill-opacity="0.09" stroke-opacity="0.09"/>
<circle cx="3311" cy="281.4" r="4.55" fill-opacity="0.25" stroke-opacity="0.25"/>
<circle cx="3331.3" cy="281.4" r="4.55" fill-opacity="0.65" stroke-opacity="0.65"/>
<circle cx="3351.6" cy="281.4" r="4.55" fill-opacity="0.76" stroke-opacity="0.76"/>
<circle cx="3371.9" cy="281.4" r="4.55" fill-opacity="0.82" stroke-opacity="0.82"/>
<circle cx="3351.6" cy="261.5" r="4.55" fill-opacity="0.25" stroke-opacity="0.25"/>
<circle cx="3371.9" cy="261.5" r="4.55" fill-opacity="0.82" stroke-opacity="0.82"/>
<circle cx="3392.2" cy="261.5" r="4.55" fill-opacity="1.00" stroke-opacity="1.00"/>
</g>
<path d="M3006.4 859.4 L3012.2 846.2 L3018.1 833.1 L3023.9 820.2 L3029.8 807.5 L3035.6 794.9 L3041.5 782.5 L3047.3 770.2 L3053.2 758.1 L3059 746.2 L3064.9 734.3 L3070.7 722.7 L3076.6 711.2 L3082.4 699.8 L3088.2 688.5 L3094.1 677.4 L3099.9 666.5 L3105.8 655.7 L3111.6 645 L3117.5 634.4 L3123.3 624 L3129.2 613.7 L3135 603.5 L3140.9 593.5 L3146.7 583.5 L3152.6 573.8 L3158.4 564.1 L3164.2 554.5 L3170.1 545.1 L3175.9 535.8 L3181.8 526.6 L3187.6 517.5 L3193.5 508.5 L3199.3 499.6 L3205.2 490.9 L3211 482.2 L3216.9 473.7 L3222.7 465.3 L3228.5 457 L3234.4 448.7 L3240.2 440.6 L3246.1 432.6 L3251.9 424.7 L3257.8 416.8 L3263.6 409.1 L3269.5 401.5 L3275.3 394 L3281.2 386.5 L3287 379.2 L3292.9 371.9 L3298.7 364.7 L3304.5 357.7 L3310.4 350.7 L3316.2 343.8 L3322.1 337 L3327.9 330.2 L3333.8 323.6 L3339.6 317 L3345.5 310.5 L3351.3 304.1 L3357.2 297.8 L3363 291.5 L3368.9 285.4 L3374.7 279.3 L3380.5 273.3 L3386.4 267.3 L3392.2 261.5" fill="none" stroke="#8b0000" stroke-width="6.25" stroke-linecap="butt" stroke-linejoin="round"/>
<text x="3198.6" y="756" font-size="41.67" style="fill:#8b0000">discovery</text>
<text x="3198.6" y="800.4" font-size="41.67" style="fill:#8b0000">index=0.58</text>
</g></svg></body></html>
